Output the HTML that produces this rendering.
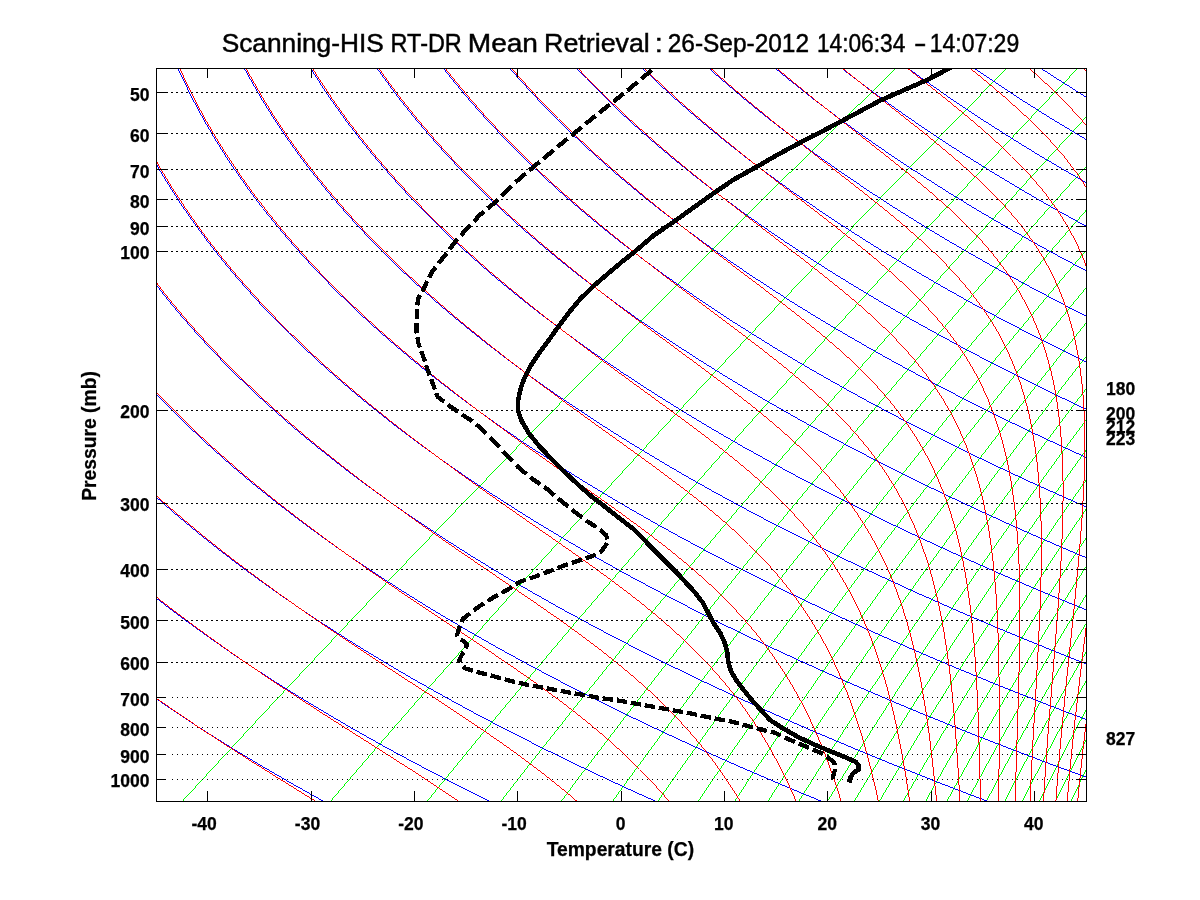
<!DOCTYPE html>
<html lang="en"><head><meta charset="utf-8"><title>Scanning-HIS RT-DR Mean Retrieval</title>
<style>html,body{margin:0;padding:0;background:#fff}body{width:1200px;height:900px;overflow:hidden;position:relative}svg{position:absolute;left:0;top:0}text{font-family:"Liberation Sans",sans-serif;fill:#000}.tk{font-weight:bold;font-size:17.5px;stroke:#000;stroke-width:.25px}.lb{font-weight:bold;font-size:19.3px;stroke:#000;stroke-width:.25px}.tt{font-size:25px;stroke:#000;stroke-width:.45px}</style></head><body>
<svg width="1200" height="900" viewBox="0 0 1200 900">
<rect x="0" y="0" width="1200" height="900" fill="#fff"/>
<defs><clipPath id="cp"><rect x="156" y="68" width="931" height="734"/></clipPath></defs>
<g clip-path="url(#cp)" shape-rendering="crispEdges" stroke="none">
<path fill="#00ff00" d="M896.3,67.5 885.1,78.4 864.5,98.6 844.6,118.2 825.2,137.2 806.4,155.8 788.2,173.8 770.4,191.4 753.2,208.5 736.4,225.2 720,241.5 704.1,257.4 704.1,258.4 720,242.5 736.4,226.2 753.2,209.5 770.4,192.4 788.2,174.8 806.4,156.8 825.2,138.2 844.6,119.2 864.5,99.6 885.1,79.4 896.3,68.5ZM703.6,257.9 688.1,273.5 673,288.6 658.2,303.5 643.8,318 629.8,332.1 616.1,346 602.7,359.6 589.6,372.9 576.7,385.9 564.2,398.7 552,411.2 540,423.5 528.2,435.5 516.7,447.3 505.5,458.8 494.5,470.2 483.7,481.4 473.1,492.3 462.7,503 452.5,513.6 442.5,524 432.7,534.2 423.1,544.2 413.6,554.1 404.4,563.7 395.3,573.3 386.3,582.6 377.6,591.9 368.9,600.9 360.5,609.9 352.1,618.6 343.9,627.3 335.9,635.8 328,644.2 320.2,652.5 312.5,660.6 305,668.6 297.6,676.5 290.3,684.3 283.1,691.9 276.1,699.5 269.1,706.9 262.3,714.3 255.5,721.5 248.9,728.7 242.4,735.7 235.9,742.6 229.6,749.5 223.4,756.2 217.2,762.9 211.2,769.4 205.2,775.9 199.3,782.3 193.5,788.6 187.8,794.9 182.1,801 183.1,801 188.8,794.9 194.5,788.6 200.3,782.3 206.2,775.9 212.2,769.4 218.2,762.9 224.4,756.2 230.6,749.5 236.9,742.6 243.4,735.7 249.9,728.7 256.5,721.5 263.3,714.3 270.1,706.9 277.1,699.5 284.1,691.9 291.3,684.3 298.6,676.5 306,668.6 313.5,660.6 321.2,652.5 329,644.2 336.9,635.8 344.9,627.3 353.1,618.6 361.5,609.9 369.9,600.9 378.6,591.9 387.3,582.6 396.3,573.3 405.4,563.7 414.6,554.1 424.1,544.2 433.7,534.2 443.5,524 453.5,513.6 463.7,503 474.1,492.3 484.7,481.4 495.5,470.2 506.5,458.8 517.7,447.3 529.2,435.5 541,423.5 553,411.2 565.2,398.7 577.7,385.9 590.6,372.9 603.7,359.6 617.1,346 630.8,332.1 644.8,318 659.2,303.5 674,288.6 689.1,273.5 704.6,257.9Z"/>
<path fill="#00ff00" d="M1006.5,68 995.8,78.9 976,99.1 956.9,118.7 938.3,137.7 920.3,156.3 902.8,174.3 885.9,191.9 869.4,209 853.3,225.7 837.7,242 822.5,257.9 807.7,273.5 793.3,288.6 779.2,303.5 765.5,318 752.1,332.1 739.1,346 726.3,359.6 713.9,372.9 701.7,385.9 689.8,398.7 678.2,411.2 666.8,423.5 655.7,435.5 644.8,447.3 634.1,458.8 623.7,470.2 613.4,481.4 603.4,492.3 593.6,503 584,513.6 574.5,524 565.3,534.2 556.2,544.2 547.3,554.1 538.6,563.7 530,573.3 521.6,582.6 513.3,591.9 505.2,600.9 497.2,609.9 489.4,618.6 481.7,627.3 474.1,635.8 466.7,644.2 459.3,652.5 452.2,660.6 445.1,668.6 438.1,676.5 431.3,684.3 424.6,691.9 418,699.5 411.5,706.9 405.1,714.3 398.8,721.5 392.6,728.7 386.5,735.7 380.5,742.6 374.5,749.5 368.7,756.2 363,762.9 357.3,769.4 351.8,775.9 346.3,782.3 340.9,788.6 335.5,794.9 330.3,801 331.3,801 336.5,794.9 341.9,788.6 347.3,782.3 352.8,775.9 358.3,769.4 364,762.9 369.7,756.2 375.5,749.5 381.5,742.6 387.5,735.7 393.6,728.7 399.8,721.5 406.1,714.3 412.5,706.9 419,699.5 425.6,691.9 432.3,684.3 439.1,676.5 446.1,668.6 453.2,660.6 460.3,652.5 467.7,644.2 475.1,635.8 482.7,627.3 490.4,618.6 498.2,609.9 506.2,600.9 514.3,591.9 522.6,582.6 531,573.3 539.6,563.7 548.3,554.1 557.2,544.2 566.3,534.2 575.5,524 585,513.6 594.6,503 604.4,492.3 614.4,481.4 624.7,470.2 635.1,458.8 645.8,447.3 656.7,435.5 667.8,423.5 679.2,411.2 690.8,398.7 702.7,385.9 714.9,372.9 727.3,359.6 740.1,346 753.1,332.1 766.5,318 780.2,303.5 794.3,288.6 808.7,273.5 823.5,257.9 838.7,242 854.3,225.7 870.4,209 886.9,191.9 903.8,174.3 921.3,156.3 939.3,137.7 957.9,118.7 977,99.1 996.8,78.9 1007.5,68Z"/>
<path fill="#00ff00" d="M1077.6,68 1067.2,78.9 1048,99.1 1029.4,118.7 1011.4,137.7 994,156.3 977,174.3 960.6,191.9 944.6,209 929,225.7 913.9,242 899.2,257.9 884.9,273.5 870.9,288.6 857.3,303.5 844.1,318 831.2,332.1 818.6,346 806.3,359.6 794.2,372.9 782.5,385.9 771,398.7 759.8,411.2 748.9,423.5 738.1,435.5 727.7,447.3 717.4,458.8 707.4,470.2 697.5,481.4 687.9,492.3 678.4,503 669.2,513.6 660.1,524 651.3,534.2 642.5,544.2 634,554.1 625.6,563.7 617.4,573.3 609.3,582.6 601.4,591.9 593.6,600.9 586,609.9 578.5,618.6 571.1,627.3 563.9,635.8 556.8,644.2 549.8,652.5 543,660.6 536.2,668.6 529.6,676.5 523.1,684.3 516.7,691.9 510.4,699.5 504.2,706.9 498.1,714.3 492,721.5 486.1,728.7 480.3,735.7 474.6,742.6 469,749.5 463.4,756.2 458,762.9 452.6,769.4 447.3,775.9 442.1,782.3 437,788.6 431.9,794.9 427,801 428,801 432.9,794.9 438,788.6 443.1,782.3 448.3,775.9 453.6,769.4 459,762.9 464.4,756.2 470,749.5 475.6,742.6 481.3,735.7 487.1,728.7 493,721.5 499.1,714.3 505.2,706.9 511.4,699.5 517.7,691.9 524.1,684.3 530.6,676.5 537.2,668.6 544,660.6 550.8,652.5 557.8,644.2 564.9,635.8 572.1,627.3 579.5,618.6 587,609.9 594.6,600.9 602.4,591.9 610.3,582.6 618.4,573.3 626.6,563.7 635,554.1 643.5,544.2 652.3,534.2 661.1,524 670.2,513.6 679.4,503 688.9,492.3 698.5,481.4 708.4,470.2 718.4,458.8 728.7,447.3 739.1,435.5 749.9,423.5 760.8,411.2 772,398.7 783.5,385.9 795.2,372.9 807.3,359.6 819.6,346 832.2,332.1 845.1,318 858.3,303.5 871.9,288.6 885.9,273.5 900.2,257.9 914.9,242 930,225.7 945.6,209 961.6,191.9 978,174.3 995,156.3 1012.4,137.7 1030.4,118.7 1049,99.1 1068.2,78.9 1078.6,68Z"/>
<path fill="#00ff00" d="M1131.3,68 1121.1,78.9 1102.4,99.1 1084.2,118.7 1066.6,137.7 1049.6,156.3 1033,174.3 1017,191.9 1001.4,209 986.2,225.7 971.5,242 957.2,257.9 943.2,273.5 929.7,288.6 916.4,303.5 903.6,318 891,332.1 878.7,346 866.8,359.6 855.1,372.9 843.7,385.9 832.6,398.7 821.7,411.2 811.1,423.5 800.7,435.5 790.5,447.3 780.5,458.8 770.8,470.2 761.3,481.4 752,492.3 742.8,503 733.9,513.6 725.1,524 716.5,534.2 708.1,544.2 699.8,554.1 691.7,563.7 683.8,573.3 676,582.6 668.4,591.9 660.9,600.9 653.5,609.9 646.3,618.6 639.2,627.3 632.2,635.8 625.4,644.2 618.6,652.5 612,660.6 605.5,668.6 599.2,676.5 592.9,684.3 586.7,691.9 580.6,699.5 574.7,706.9 568.8,714.3 563.1,721.5 557.4,728.7 551.8,735.7 546.3,742.6 540.9,749.5 535.6,756.2 530.4,762.9 525.2,769.4 520.1,775.9 515.2,782.3 510.2,788.6 505.4,794.9 500.6,801 501.6,801 506.4,794.9 511.2,788.6 516.2,782.3 521.1,775.9 526.2,769.4 531.4,762.9 536.6,756.2 541.9,749.5 547.3,742.6 552.8,735.7 558.4,728.7 564.1,721.5 569.8,714.3 575.7,706.9 581.6,699.5 587.7,691.9 593.9,684.3 600.2,676.5 606.5,668.6 613,660.6 619.6,652.5 626.4,644.2 633.2,635.8 640.2,627.3 647.3,618.6 654.5,609.9 661.9,600.9 669.4,591.9 677,582.6 684.8,573.3 692.7,563.7 700.8,554.1 709.1,544.2 717.5,534.2 726.1,524 734.9,513.6 743.8,503 753,492.3 762.3,481.4 771.8,470.2 781.5,458.8 791.5,447.3 801.7,435.5 812.1,423.5 822.7,411.2 833.6,398.7 844.7,385.9 856.1,372.9 867.8,359.6 879.7,346 892,332.1 904.6,318 917.4,303.5 930.7,288.6 944.2,273.5 958.2,257.9 972.5,242 987.2,225.7 1002.4,209 1018,191.9 1034,174.3 1050.6,156.3 1067.6,137.7 1085.2,118.7 1103.4,99.1 1122.1,78.9 1132.3,68Z"/>
<path fill="#00ff00" d="M1174.8,68 1164.9,78.9 1146.5,99.1 1128.7,118.7 1111.5,137.7 1094.8,156.3 1078.6,174.3 1062.8,191.9 1047.6,209 1032.8,225.7 1018.4,242 1004.4,257.9 990.7,273.5 977.5,288.6 964.5,303.5 952,318 939.7,332.1 927.7,346 916.1,359.6 904.7,372.9 893.6,385.9 882.7,398.7 872.1,411.2 861.7,423.5 851.6,435.5 841.7,447.3 832,458.8 822.6,470.2 813.3,481.4 804.2,492.3 795.3,503 786.6,513.6 778.1,524 769.8,534.2 761.6,544.2 753.6,554.1 745.7,563.7 738,573.3 730.5,582.6 723,591.9 715.8,600.9 708.6,609.9 701.6,618.6 694.7,627.3 688,635.8 681.4,644.2 674.9,652.5 668.5,660.6 662.2,668.6 656,676.5 649.9,684.3 644,691.9 638.1,699.5 632.4,706.9 626.7,714.3 621.1,721.5 615.7,728.7 610.3,735.7 605,742.6 599.8,749.5 594.6,756.2 589.6,762.9 584.6,769.4 579.7,775.9 574.9,782.3 570.2,788.6 565.5,794.9 561,801 562,801 566.5,794.9 571.2,788.6 575.9,782.3 580.7,775.9 585.6,769.4 590.6,762.9 595.6,756.2 600.8,749.5 606,742.6 611.3,735.7 616.7,728.7 622.1,721.5 627.7,714.3 633.4,706.9 639.1,699.5 645,691.9 650.9,684.3 657,676.5 663.2,668.6 669.5,660.6 675.9,652.5 682.4,644.2 689,635.8 695.7,627.3 702.6,618.6 709.6,609.9 716.8,600.9 724,591.9 731.5,582.6 739,573.3 746.7,563.7 754.6,554.1 762.6,544.2 770.8,534.2 779.1,524 787.6,513.6 796.3,503 805.2,492.3 814.3,481.4 823.6,470.2 833,458.8 842.7,447.3 852.6,435.5 862.7,423.5 873.1,411.2 883.7,398.7 894.6,385.9 905.7,372.9 917.1,359.6 928.7,346 940.7,332.1 953,318 965.5,303.5 978.5,288.6 991.7,273.5 1005.4,257.9 1019.4,242 1033.8,225.7 1048.6,209 1063.8,191.9 1079.6,174.3 1095.8,156.3 1112.5,137.7 1129.7,118.7 1147.5,99.1 1165.9,78.9 1175.8,68Z"/>
<path fill="#00ff00" d="M1211.8,68 1202,78.9 1183.9,99.1 1166.4,118.7 1149.5,137.7 1133.1,156.3 1117.2,174.3 1101.8,191.9 1086.8,209 1072.3,225.7 1058.1,242 1044.4,257.9 1031,273.5 1018,288.6 1005.4,303.5 993.1,318 981,332.1 969.3,346 957.9,359.6 946.8,372.9 935.9,385.9 925.3,398.7 914.9,411.2 904.8,423.5 894.9,435.5 885.3,447.3 875.8,458.8 866.6,470.2 857.5,481.4 848.7,492.3 840,503 831.5,513.6 823.2,524 815.1,534.2 807.1,544.2 799.3,554.1 791.7,563.7 784.2,573.3 776.8,582.6 769.6,591.9 762.5,600.9 755.6,609.9 748.8,618.6 742.1,627.3 735.5,635.8 729.1,644.2 722.8,652.5 716.5,660.6 710.4,668.6 704.5,676.5 698.6,684.3 692.8,691.9 687.1,699.5 681.5,706.9 676,714.3 670.6,721.5 665.3,728.7 660.1,735.7 655,742.6 649.9,749.5 645,756.2 640.1,762.9 635.3,769.4 630.6,775.9 625.9,782.3 621.3,788.6 616.8,794.9 612.4,801 613.4,801 617.8,794.9 622.3,788.6 626.9,782.3 631.6,775.9 636.3,769.4 641.1,762.9 646,756.2 650.9,749.5 656,742.6 661.1,735.7 666.3,728.7 671.6,721.5 677,714.3 682.5,706.9 688.1,699.5 693.8,691.9 699.6,684.3 705.5,676.5 711.4,668.6 717.5,660.6 723.8,652.5 730.1,644.2 736.5,635.8 743.1,627.3 749.8,618.6 756.6,609.9 763.5,600.9 770.6,591.9 777.8,582.6 785.2,573.3 792.7,563.7 800.3,554.1 808.1,544.2 816.1,534.2 824.2,524 832.5,513.6 841,503 849.7,492.3 858.5,481.4 867.6,470.2 876.8,458.8 886.3,447.3 895.9,435.5 905.8,423.5 915.9,411.2 926.3,398.7 936.9,385.9 947.8,372.9 958.9,359.6 970.3,346 982,332.1 994.1,318 1006.4,303.5 1019,288.6 1032,273.5 1045.4,257.9 1059.1,242 1073.3,225.7 1087.8,209 1102.8,191.9 1118.2,174.3 1134.1,156.3 1150.5,137.7 1167.4,118.7 1184.9,99.1 1203,78.9 1212.8,68Z"/>
<path fill="#00ff00" d="M1243.9,68 1234.3,78.9 1216.5,99.1 1199.3,118.7 1182.6,137.7 1166.5,156.3 1150.9,174.3 1135.7,191.9 1121,209 1106.7,225.7 1092.8,242 1079.3,257.9 1066.2,273.5 1053.4,288.6 1041,303.5 1028.9,318 1017.1,332.1 1005.7,346 994.5,359.6 983.6,372.9 972.9,385.9 962.5,398.7 952.4,411.2 942.4,423.5 932.8,435.5 923.3,447.3 914.1,458.8 905,470.2 896.2,481.4 887.5,492.3 879,503 870.8,513.6 862.6,524 854.7,534.2 846.9,544.2 839.3,554.1 831.8,563.7 824.5,573.3 817.3,582.6 810.3,591.9 803.4,600.9 796.6,609.9 790,618.6 783.5,627.3 777.1,635.8 770.8,644.2 764.7,652.5 758.6,660.6 752.7,668.6 746.9,676.5 741.1,684.3 735.5,691.9 730,699.5 724.6,706.9 719.2,714.3 714,721.5 708.8,728.7 703.8,735.7 698.8,742.6 693.9,749.5 689.1,756.2 684.4,762.9 679.7,769.4 675.1,775.9 670.6,782.3 666.2,788.6 661.8,794.9 657.5,801 658.5,801 662.8,794.9 667.2,788.6 671.6,782.3 676.1,775.9 680.7,769.4 685.4,762.9 690.1,756.2 694.9,749.5 699.8,742.6 704.8,735.7 709.8,728.7 715,721.5 720.2,714.3 725.6,706.9 731,699.5 736.5,691.9 742.1,684.3 747.9,676.5 753.7,668.6 759.6,660.6 765.7,652.5 771.8,644.2 778.1,635.8 784.5,627.3 791,618.6 797.6,609.9 804.4,600.9 811.3,591.9 818.3,582.6 825.5,573.3 832.8,563.7 840.3,554.1 847.9,544.2 855.7,534.2 863.6,524 871.8,513.6 880,503 888.5,492.3 897.2,481.4 906,470.2 915.1,458.8 924.3,447.3 933.8,435.5 943.4,423.5 953.4,411.2 963.5,398.7 973.9,385.9 984.6,372.9 995.5,359.6 1006.7,346 1018.1,332.1 1029.9,318 1042,303.5 1054.4,288.6 1067.2,273.5 1080.3,257.9 1093.8,242 1107.7,225.7 1122,209 1136.7,191.9 1151.9,174.3 1167.5,156.3 1183.6,137.7 1200.3,118.7 1217.5,99.1 1235.3,78.9 1244.9,68Z"/>
<path fill="#00ff00" d="M1272.5,68 1263,78.9 1245.5,99.1 1228.5,118.7 1212.1,137.7 1196.2,156.3 1180.8,174.3 1165.9,191.9 1151.4,209 1137.3,225.7 1123.7,242 1110.4,257.9 1097.5,273.5 1084.9,288.6 1072.7,303.5 1060.9,318 1049.3,332.1 1038,346 1027,359.6 1016.3,372.9 1005.8,385.9 995.6,398.7 985.7,411.2 976,423.5 966.5,435.5 957.2,447.3 948.1,458.8 939.3,470.2 930.6,481.4 922.1,492.3 913.8,503 905.7,513.6 897.8,524 890,534.2 882.4,544.2 874.9,554.1 867.6,563.7 860.5,573.3 853.5,582.6 846.6,591.9 839.9,600.9 833.3,609.9 826.8,618.6 820.4,627.3 814.2,635.8 808.1,644.2 802.1,652.5 796.2,660.6 790.4,668.6 784.7,676.5 779.1,684.3 773.7,691.9 768.3,699.5 763,706.9 757.8,714.3 752.7,721.5 747.7,728.7 742.8,735.7 737.9,742.6 733.1,749.5 728.5,756.2 723.9,762.9 719.3,769.4 714.9,775.9 710.5,782.3 706.2,788.6 702,794.9 697.8,801 698.8,801 703,794.9 707.2,788.6 711.5,782.3 715.9,775.9 720.3,769.4 724.9,762.9 729.5,756.2 734.1,749.5 738.9,742.6 743.8,735.7 748.7,728.7 753.7,721.5 758.8,714.3 764,706.9 769.3,699.5 774.7,691.9 780.1,684.3 785.7,676.5 791.4,668.6 797.2,660.6 803.1,652.5 809.1,644.2 815.2,635.8 821.4,627.3 827.8,618.6 834.3,609.9 840.9,600.9 847.6,591.9 854.5,582.6 861.5,573.3 868.6,563.7 875.9,554.1 883.4,544.2 891,534.2 898.8,524 906.7,513.6 914.8,503 923.1,492.3 931.6,481.4 940.3,470.2 949.1,458.8 958.2,447.3 967.5,435.5 977,423.5 986.7,411.2 996.6,398.7 1006.8,385.9 1017.3,372.9 1028,359.6 1039,346 1050.3,332.1 1061.9,318 1073.7,303.5 1085.9,288.6 1098.5,273.5 1111.4,257.9 1124.7,242 1138.3,225.7 1152.4,209 1166.9,191.9 1181.8,174.3 1197.2,156.3 1213.1,137.7 1229.5,118.7 1246.5,99.1 1264,78.9 1273.5,68Z"/>
<path fill="#00ff00" d="M1271.6,99.1 1254.9,118.7 1238.7,137.7 1223,156.3 1207.8,174.3 1193.1,191.9 1178.8,209 1165,225.7 1151.5,242 1138.4,257.9 1125.7,273.5 1113.4,288.6 1101.4,303.5 1089.7,318 1078.3,332.1 1067.2,346 1056.4,359.6 1045.9,372.9 1035.6,385.9 1025.6,398.7 1015.8,411.2 1006.2,423.5 996.9,435.5 987.8,447.3 978.9,458.8 970.2,470.2 961.7,481.4 953.4,492.3 945.3,503 937.3,513.6 929.5,524 921.9,534.2 914.5,544.2 907.2,554.1 900,563.7 893,573.3 886.2,582.6 879.4,591.9 872.8,600.9 866.4,609.9 860,618.6 853.8,627.3 847.7,635.8 841.8,644.2 835.9,652.5 830.1,660.6 824.5,668.6 818.9,676.5 813.5,684.3 808.2,691.9 802.9,699.5 797.8,706.9 792.7,714.3 787.7,721.5 782.8,728.7 778,735.7 773.3,742.6 768.7,749.5 764.1,756.2 759.6,762.9 755.2,769.4 750.9,775.9 746.6,782.3 742.5,788.6 738.3,794.9 734.3,801 735.3,801 739.3,794.9 743.5,788.6 747.6,782.3 751.9,775.9 756.2,769.4 760.6,762.9 765.1,756.2 769.7,749.5 774.3,742.6 779,735.7 783.8,728.7 788.7,721.5 793.7,714.3 798.8,706.9 803.9,699.5 809.2,691.9 814.5,684.3 819.9,676.5 825.5,668.6 831.1,660.6 836.9,652.5 842.8,644.2 848.7,635.8 854.8,627.3 861,618.6 867.4,609.9 873.8,600.9 880.4,591.9 887.2,582.6 894,573.3 901,563.7 908.2,554.1 915.5,544.2 922.9,534.2 930.5,524 938.3,513.6 946.3,503 954.4,492.3 962.7,481.4 971.2,470.2 979.9,458.8 988.8,447.3 997.9,435.5 1007.2,423.5 1016.8,411.2 1026.6,398.7 1036.6,385.9 1046.9,372.9 1057.4,359.6 1068.2,346 1079.3,332.1 1090.7,318 1102.4,303.5 1114.4,288.6 1126.7,273.5 1139.4,257.9 1152.5,242 1166,225.7 1179.8,209 1194.1,191.9 1208.8,174.3 1224,156.3 1239.7,137.7 1255.9,118.7 1272.6,99.1Z"/>
<path fill="#00ff00" d="M1278.9,118.7 1262.9,137.7 1247.4,156.3 1232.4,174.3 1217.9,191.9 1203.8,209 1190.2,225.7 1176.9,242 1164,257.9 1151.5,273.5 1139.3,288.6 1127.5,303.5 1116,318 1104.8,332.1 1093.9,346 1083.2,359.6 1072.8,372.9 1062.7,385.9 1052.9,398.7 1043.3,411.2 1033.9,423.5 1024.7,435.5 1015.8,447.3 1007,458.8 998.5,470.2 990.1,481.4 982,492.3 974,503 966.2,513.6 958.6,524 951.1,534.2 943.8,544.2 936.6,554.1 929.6,563.7 922.8,573.3 916,582.6 909.4,591.9 903,600.9 896.7,609.9 890.5,618.6 884.4,627.3 878.4,635.8 872.6,644.2 866.8,652.5 861.2,660.6 855.7,668.6 850.3,676.5 844.9,684.3 839.7,691.9 834.6,699.5 829.6,706.9 824.6,714.3 819.8,721.5 815,728.7 810.3,735.7 805.7,742.6 801.2,749.5 796.7,756.2 792.4,762.9 788.1,769.4 783.9,775.9 779.7,782.3 775.6,788.6 771.6,794.9 767.7,801 768.7,801 772.6,794.9 776.6,788.6 780.7,782.3 784.9,775.9 789.1,769.4 793.4,762.9 797.7,756.2 802.2,749.5 806.7,742.6 811.3,735.7 816,728.7 820.8,721.5 825.6,714.3 830.6,706.9 835.6,699.5 840.7,691.9 845.9,684.3 851.3,676.5 856.7,668.6 862.2,660.6 867.8,652.5 873.6,644.2 879.4,635.8 885.4,627.3 891.5,618.6 897.7,609.9 904,600.9 910.4,591.9 917,582.6 923.8,573.3 930.6,563.7 937.6,554.1 944.8,544.2 952.1,534.2 959.6,524 967.2,513.6 975,503 983,492.3 991.1,481.4 999.5,470.2 1008,458.8 1016.8,447.3 1025.7,435.5 1034.9,423.5 1044.3,411.2 1053.9,398.7 1063.7,385.9 1073.8,372.9 1084.2,359.6 1094.9,346 1105.8,332.1 1117,318 1128.5,303.5 1140.3,288.6 1152.5,273.5 1165,257.9 1177.9,242 1191.2,225.7 1204.8,209 1218.9,191.9 1233.4,174.3 1248.4,156.3 1263.9,137.7 1279.9,118.7Z"/>
<path fill="#00ff00" d="M1285.2,137.7 1269.9,156.3 1255.1,174.3 1240.8,191.9 1226.8,209 1213.4,225.7 1200.3,242 1187.6,257.9 1175.2,273.5 1163.2,288.6 1151.6,303.5 1140.2,318 1129.2,332.1 1118.4,346 1107.9,359.6 1097.7,372.9 1087.8,385.9 1078.1,398.7 1068.6,411.2 1059.4,423.5 1050.3,435.5 1041.5,447.3 1032.9,458.8 1024.5,470.2 1016.3,481.4 1008.3,492.3 1000.5,503 992.8,513.6 985.3,524 978,534.2 970.8,544.2 963.8,554.1 956.9,563.7 950.2,573.3 943.6,582.6 937.1,591.9 930.8,600.9 924.6,609.9 918.5,618.6 912.6,627.3 906.7,635.8 901,644.2 895.4,652.5 889.9,660.6 884.5,668.6 879.2,676.5 874,684.3 868.8,691.9 863.8,699.5 858.9,706.9 854.1,714.3 849.3,721.5 844.7,728.7 840.1,735.7 835.6,742.6 831.2,749.5 826.9,756.2 822.6,762.9 818.4,769.4 814.3,775.9 810.3,782.3 806.3,788.6 802.4,794.9 798.5,801 799.5,801 803.4,794.9 807.3,788.6 811.3,782.3 815.3,775.9 819.4,769.4 823.6,762.9 827.9,756.2 832.2,749.5 836.6,742.6 841.1,735.7 845.7,728.7 850.3,721.5 855.1,714.3 859.9,706.9 864.8,699.5 869.8,691.9 875,684.3 880.2,676.5 885.5,668.6 890.9,660.6 896.4,652.5 902,644.2 907.7,635.8 913.6,627.3 919.5,618.6 925.6,609.9 931.8,600.9 938.1,591.9 944.6,582.6 951.2,573.3 957.9,563.7 964.8,554.1 971.8,544.2 979,534.2 986.3,524 993.8,513.6 1001.5,503 1009.3,492.3 1017.3,481.4 1025.5,470.2 1033.9,458.8 1042.5,447.3 1051.3,435.5 1060.4,423.5 1069.6,411.2 1079.1,398.7 1088.8,385.9 1098.7,372.9 1108.9,359.6 1119.4,346 1130.2,332.1 1141.2,318 1152.6,303.5 1164.2,288.6 1176.2,273.5 1188.6,257.9 1201.3,242 1214.4,225.7 1227.8,209 1241.8,191.9 1256.1,174.3 1270.9,156.3 1286.2,137.7Z"/>
<path fill="#00ff00" d="M1276.1,174.3 1261.9,191.9 1248.2,209 1234.9,225.7 1221.9,242 1209.4,257.9 1197.2,273.5 1185.4,288.6 1173.9,303.5 1162.7,318 1151.8,332.1 1141.2,346 1130.8,359.6 1120.8,372.9 1111,385.9 1101.4,398.7 1092.1,411.2 1083,423.5 1074.1,435.5 1065.4,447.3 1057,458.8 1048.7,470.2 1040.7,481.4 1032.8,492.3 1025.1,503 1017.5,513.6 1010.2,524 1002.9,534.2 995.9,544.2 989,554.1 982.2,563.7 975.6,573.3 969.2,582.6 962.8,591.9 956.6,600.9 950.5,609.9 944.6,618.6 938.7,627.3 933,635.8 927.4,644.2 921.9,652.5 916.5,660.6 911.2,668.6 906,676.5 900.9,684.3 895.9,691.9 891,699.5 886.2,706.9 881.5,714.3 876.8,721.5 872.3,728.7 867.8,735.7 863.4,742.6 859.1,749.5 854.8,756.2 850.7,762.9 846.6,769.4 842.6,775.9 838.6,782.3 834.7,788.6 830.9,794.9 827.2,801 828.2,801 831.9,794.9 835.7,788.6 839.6,782.3 843.6,775.9 847.6,769.4 851.7,762.9 855.8,756.2 860.1,749.5 864.4,742.6 868.8,735.7 873.3,728.7 877.8,721.5 882.5,714.3 887.2,706.9 892,699.5 896.9,691.9 901.9,684.3 907,676.5 912.2,668.6 917.5,660.6 922.9,652.5 928.4,644.2 934,635.8 939.7,627.3 945.6,618.6 951.5,609.9 957.6,600.9 963.8,591.9 970.2,582.6 976.6,573.3 983.2,563.7 990,554.1 996.9,544.2 1003.9,534.2 1011.2,524 1018.5,513.6 1026.1,503 1033.8,492.3 1041.7,481.4 1049.7,470.2 1058,458.8 1066.4,447.3 1075.1,435.5 1084,423.5 1093.1,411.2 1102.4,398.7 1112,385.9 1121.8,372.9 1131.8,359.6 1142.2,346 1152.8,332.1 1163.7,318 1174.9,303.5 1186.4,288.6 1198.2,273.5 1210.4,257.9 1222.9,242 1235.9,225.7 1249.2,209 1262.9,191.9 1277.1,174.3Z"/>
<path fill="#00ff00" d="M1281.6,191.9 1268.1,209 1254.9,225.7 1242.1,242 1229.7,257.9 1217.7,273.5 1206,288.6 1194.6,303.5 1183.6,318 1172.8,332.1 1162.4,346 1152.2,359.6 1142.3,372.9 1132.6,385.9 1123.2,398.7 1114,411.2 1105,423.5 1096.3,435.5 1087.7,447.3 1079.4,458.8 1071.3,470.2 1063.3,481.4 1055.6,492.3 1048,503 1040.6,513.6 1033.3,524 1026.2,534.2 1019.3,544.2 1012.5,554.1 1005.9,563.7 999.4,573.3 993,582.6 986.8,591.9 980.7,600.9 974.7,609.9 968.9,618.6 963.2,627.3 957.5,635.8 952,644.2 946.6,652.5 941.3,660.6 936.1,668.6 931.1,676.5 926.1,684.3 921.2,691.9 916.4,699.5 911.7,706.9 907,714.3 902.5,721.5 898,728.7 893.7,735.7 889.4,742.6 885.1,749.5 881,756.2 876.9,762.9 872.9,769.4 869,775.9 865.1,782.3 861.4,788.6 857.6,794.9 854,801 855,801 858.6,794.9 862.4,788.6 866.1,782.3 870,775.9 873.9,769.4 877.9,762.9 882,756.2 886.1,749.5 890.4,742.6 894.7,735.7 899,728.7 903.5,721.5 908,714.3 912.7,706.9 917.4,699.5 922.2,691.9 927.1,684.3 932.1,676.5 937.1,668.6 942.3,660.6 947.6,652.5 953,644.2 958.5,635.8 964.2,627.3 969.9,618.6 975.7,609.9 981.7,600.9 987.8,591.9 994,582.6 1000.4,573.3 1006.9,563.7 1013.5,554.1 1020.3,544.2 1027.2,534.2 1034.3,524 1041.6,513.6 1049,503 1056.6,492.3 1064.3,481.4 1072.3,470.2 1080.4,458.8 1088.7,447.3 1097.3,435.5 1106,423.5 1115,411.2 1124.2,398.7 1133.6,385.9 1143.3,372.9 1153.2,359.6 1163.4,346 1173.8,332.1 1184.6,318 1195.6,303.5 1207,288.6 1218.7,273.5 1230.7,257.9 1243.1,242 1255.9,225.7 1269.1,209 1282.6,191.9Z"/>
<path fill="#00ff00" d="M1273.7,225.7 1261.1,242 1248.8,257.9 1236.9,273.5 1225.4,288.6 1214.1,303.5 1203.2,318 1192.6,332.1 1182.3,346 1172.2,359.6 1162.4,372.9 1152.9,385.9 1143.6,398.7 1134.5,411.2 1125.7,423.5 1117.1,435.5 1108.7,447.3 1100.4,458.8 1092.4,470.2 1084.6,481.4 1077,492.3 1069.5,503 1062.2,513.6 1055.1,524 1048.1,534.2 1041.3,544.2 1034.6,554.1 1028.1,563.7 1021.7,573.3 1015.4,582.6 1009.3,591.9 1003.3,600.9 997.5,609.9 991.7,618.6 986.1,627.3 980.6,635.8 975.2,644.2 969.9,652.5 964.7,660.6 959.6,668.6 954.6,676.5 949.7,684.3 944.9,691.9 940.2,699.5 935.6,706.9 931,714.3 926.6,721.5 922.2,728.7 917.9,735.7 913.7,742.6 909.6,749.5 905.5,756.2 901.6,762.9 897.7,769.4 893.8,775.9 890,782.3 886.3,788.6 882.7,794.9 879.1,801 880.1,801 883.7,794.9 887.3,788.6 891,782.3 894.8,775.9 898.7,769.4 902.6,762.9 906.5,756.2 910.6,749.5 914.7,742.6 918.9,735.7 923.2,728.7 927.6,721.5 932,714.3 936.6,706.9 941.2,699.5 945.9,691.9 950.7,684.3 955.6,676.5 960.6,668.6 965.7,660.6 970.9,652.5 976.2,644.2 981.6,635.8 987.1,627.3 992.7,618.6 998.5,609.9 1004.3,600.9 1010.3,591.9 1016.4,582.6 1022.7,573.3 1029.1,563.7 1035.6,554.1 1042.3,544.2 1049.1,534.2 1056.1,524 1063.2,513.6 1070.5,503 1078,492.3 1085.6,481.4 1093.4,470.2 1101.4,458.8 1109.7,447.3 1118.1,435.5 1126.7,423.5 1135.5,411.2 1144.6,398.7 1153.9,385.9 1163.4,372.9 1173.2,359.6 1183.3,346 1193.6,332.1 1204.2,318 1215.1,303.5 1226.4,288.6 1237.9,273.5 1249.8,257.9 1262.1,242 1274.7,225.7Z"/>
<path fill="#00ff00" d="M1278.9,242 1266.7,257.9 1255,273.5 1243.6,288.6 1232.5,303.5 1221.7,318 1211.2,332.1 1201,346 1191.1,359.6 1181.4,372.9 1172,385.9 1162.8,398.7 1153.8,411.2 1145.1,423.5 1136.6,435.5 1128.3,447.3 1120.2,458.8 1112.3,470.2 1104.6,481.4 1097.1,492.3 1089.7,503 1082.5,513.6 1075.5,524 1068.7,534.2 1061.9,544.2 1055.4,554.1 1049,563.7 1042.7,573.3 1036.5,582.6 1030.5,591.9 1024.6,600.9 1018.8,609.9 1013.2,618.6 1007.7,627.3 1002.2,635.8 996.9,644.2 991.7,652.5 986.6,660.6 981.6,668.6 976.7,676.5 971.9,684.3 967.2,691.9 962.6,699.5 958.1,706.9 953.6,714.3 949.3,721.5 945,728.7 940.8,735.7 936.7,742.6 932.7,749.5 928.7,756.2 924.8,762.9 921,769.4 917.2,775.9 913.5,782.3 909.9,788.6 906.3,794.9 902.8,801 903.8,801 907.3,794.9 910.9,788.6 914.5,782.3 918.2,775.9 922,769.4 925.8,762.9 929.7,756.2 933.7,749.5 937.7,742.6 941.8,735.7 946,728.7 950.3,721.5 954.6,714.3 959.1,706.9 963.6,699.5 968.2,691.9 972.9,684.3 977.7,676.5 982.6,668.6 987.6,660.6 992.7,652.5 997.9,644.2 1003.2,635.8 1008.7,627.3 1014.2,618.6 1019.8,609.9 1025.6,600.9 1031.5,591.9 1037.5,582.6 1043.7,573.3 1050,563.7 1056.4,554.1 1062.9,544.2 1069.7,534.2 1076.5,524 1083.5,513.6 1090.7,503 1098.1,492.3 1105.6,481.4 1113.3,470.2 1121.2,458.8 1129.3,447.3 1137.6,435.5 1146.1,423.5 1154.8,411.2 1163.8,398.7 1173,385.9 1182.4,372.9 1192.1,359.6 1202,346 1212.2,332.1 1222.7,318 1233.5,303.5 1244.6,288.6 1256,273.5 1267.7,257.9 1279.9,242Z"/>
<path fill="#00ff00" d="M1283.7,257.9 1272,273.5 1260.7,288.6 1249.8,303.5 1239.1,318 1228.7,332.1 1218.7,346 1208.8,359.6 1199.3,372.9 1190,385.9 1180.9,398.7 1172.1,411.2 1163.5,423.5 1155.1,435.5 1146.9,447.3 1138.9,458.8 1131.1,470.2 1123.5,481.4 1116.1,492.3 1108.9,503 1101.8,513.6 1094.9,524 1088.1,534.2 1081.5,544.2 1075,554.1 1068.7,563.7 1062.5,573.3 1056.5,582.6 1050.5,591.9 1044.7,600.9 1039.1,609.9 1033.5,618.6 1028.1,627.3 1022.8,635.8 1017.5,644.2 1012.4,652.5 1007.4,660.6 1002.5,668.6 997.7,676.5 993,684.3 988.4,691.9 983.8,699.5 979.4,706.9 975,714.3 970.8,721.5 966.6,728.7 962.4,735.7 958.4,742.6 954.5,749.5 950.6,756.2 946.7,762.9 943,769.4 939.3,775.9 935.7,782.3 932.2,788.6 928.7,794.9 925.3,801 926.3,801 929.7,794.9 933.2,788.6 936.7,782.3 940.3,775.9 944,769.4 947.7,762.9 951.6,756.2 955.5,749.5 959.4,742.6 963.4,735.7 967.6,728.7 971.8,721.5 976,714.3 980.4,706.9 984.8,699.5 989.4,691.9 994,684.3 998.7,676.5 1003.5,668.6 1008.4,660.6 1013.4,652.5 1018.5,644.2 1023.8,635.8 1029.1,627.3 1034.5,618.6 1040.1,609.9 1045.7,600.9 1051.5,591.9 1057.5,582.6 1063.5,573.3 1069.7,563.7 1076,554.1 1082.5,544.2 1089.1,534.2 1095.9,524 1102.8,513.6 1109.9,503 1117.1,492.3 1124.5,481.4 1132.1,470.2 1139.9,458.8 1147.9,447.3 1156.1,435.5 1164.5,423.5 1173.1,411.2 1181.9,398.7 1191,385.9 1200.3,372.9 1209.8,359.6 1219.7,346 1229.7,332.1 1240.1,318 1250.8,303.5 1261.7,288.6 1273,273.5 1284.7,257.9Z"/>
<path fill="#00ff00" d="M1277,288.6 1266.2,303.5 1255.6,318 1245.4,332.1 1235.4,346 1225.7,359.6 1216.2,372.9 1207.1,385.9 1198.1,398.7 1189.4,411.2 1180.9,423.5 1172.6,435.5 1164.5,447.3 1156.7,458.8 1149,470.2 1141.5,481.4 1134.1,492.3 1127,503 1120,513.6 1113.2,524 1106.5,534.2 1100,544.2 1093.6,554.1 1087.4,563.7 1081.3,573.3 1075.3,582.6 1069.5,591.9 1063.8,600.9 1058.2,609.9 1052.8,618.6 1047.4,627.3 1042.2,635.8 1037.1,644.2 1032,652.5 1027.1,660.6 1022.3,668.6 1017.6,676.5 1012.9,684.3 1008.4,691.9 1003.9,699.5 999.6,706.9 995.3,714.3 991.1,721.5 987,728.7 983,735.7 979,742.6 975.1,749.5 971.3,756.2 967.6,762.9 963.9,769.4 960.3,775.9 956.8,782.3 953.3,788.6 949.9,794.9 946.6,801 947.6,801 950.9,794.9 954.3,788.6 957.8,782.3 961.3,775.9 964.9,769.4 968.6,762.9 972.3,756.2 976.1,749.5 980,742.6 984,735.7 988,728.7 992.1,721.5 996.3,714.3 1000.6,706.9 1004.9,699.5 1009.4,691.9 1013.9,684.3 1018.6,676.5 1023.3,668.6 1028.1,660.6 1033,652.5 1038.1,644.2 1043.2,635.8 1048.4,627.3 1053.8,618.6 1059.2,609.9 1064.8,600.9 1070.5,591.9 1076.3,582.6 1082.3,573.3 1088.4,563.7 1094.6,554.1 1101,544.2 1107.5,534.2 1114.2,524 1121,513.6 1128,503 1135.1,492.3 1142.5,481.4 1150,470.2 1157.7,458.8 1165.5,447.3 1173.6,435.5 1181.9,423.5 1190.4,411.2 1199.1,398.7 1208.1,385.9 1217.2,372.9 1226.7,359.6 1236.4,346 1246.4,332.1 1256.6,318 1267.2,303.5 1278,288.6Z"/>
<path fill="#00ff00" d="M1281.7,303.5 1271.3,318 1261.1,332.1 1251.3,346 1241.7,359.6 1232.4,372.9 1223.3,385.9 1214.4,398.7 1205.8,411.2 1197.4,423.5 1189.2,435.5 1181.3,447.3 1173.5,458.8 1165.9,470.2 1158.5,481.4 1151.3,492.3 1144.2,503 1137.3,513.6 1130.6,524 1124,534.2 1117.6,544.2 1111.3,554.1 1105.2,563.7 1099.2,573.3 1093.3,582.6 1087.6,591.9 1081.9,600.9 1076.5,609.9 1071.1,618.6 1065.8,627.3 1060.7,635.8 1055.6,644.2 1050.7,652.5 1045.8,660.6 1041.1,668.6 1036.5,676.5 1031.9,684.3 1027.4,691.9 1023.1,699.5 1018.8,706.9 1014.6,714.3 1010.5,721.5 1006.4,728.7 1002.5,735.7 998.6,742.6 994.8,749.5 991.1,756.2 987.4,762.9 983.8,769.4 980.3,775.9 976.8,782.3 973.4,788.6 970.1,794.9 966.8,801 967.8,801 971.1,794.9 974.4,788.6 977.8,782.3 981.3,775.9 984.8,769.4 988.4,762.9 992.1,756.2 995.8,749.5 999.6,742.6 1003.5,735.7 1007.4,728.7 1011.5,721.5 1015.6,714.3 1019.8,706.9 1024.1,699.5 1028.4,691.9 1032.9,684.3 1037.5,676.5 1042.1,668.6 1046.8,660.6 1051.7,652.5 1056.6,644.2 1061.7,635.8 1066.8,627.3 1072.1,618.6 1077.5,609.9 1082.9,600.9 1088.6,591.9 1094.3,582.6 1100.2,573.3 1106.2,563.7 1112.3,554.1 1118.6,544.2 1125,534.2 1131.6,524 1138.3,513.6 1145.2,503 1152.3,492.3 1159.5,481.4 1166.9,470.2 1174.5,458.8 1182.3,447.3 1190.2,435.5 1198.4,423.5 1206.8,411.2 1215.4,398.7 1224.3,385.9 1233.4,372.9 1242.7,359.6 1252.3,346 1262.1,332.1 1272.3,318 1282.7,303.5Z"/>
<path fill="#00ff00" d="M1276.1,332.1 1266.4,346 1256.9,359.6 1247.7,372.9 1238.7,385.9 1230,398.7 1221.4,411.2 1213.1,423.5 1205.1,435.5 1197.2,447.3 1189.5,458.8 1182,470.2 1174.7,481.4 1167.6,492.3 1160.6,503 1153.8,513.6 1147.2,524 1140.7,534.2 1134.3,544.2 1128.1,554.1 1122.1,563.7 1116.2,573.3 1110.4,582.6 1104.7,591.9 1099.2,600.9 1093.8,609.9 1088.5,618.6 1083.3,627.3 1078.3,635.8 1073.3,644.2 1068.4,652.5 1063.7,660.6 1059,668.6 1054.4,676.5 1050,684.3 1045.6,691.9 1041.3,699.5 1037.1,706.9 1033,714.3 1028.9,721.5 1025,728.7 1021.1,735.7 1017.3,742.6 1013.5,749.5 1009.9,756.2 1006.3,762.9 1002.7,769.4 999.3,775.9 995.9,782.3 992.6,788.6 989.3,794.9 986.1,801 987.1,801 990.3,794.9 993.6,788.6 996.9,782.3 1000.3,775.9 1003.7,769.4 1007.3,762.9 1010.9,756.2 1014.5,749.5 1018.3,742.6 1022.1,735.7 1026,728.7 1029.9,721.5 1034,714.3 1038.1,706.9 1042.3,699.5 1046.6,691.9 1051,684.3 1055.4,676.5 1060,668.6 1064.7,660.6 1069.4,652.5 1074.3,644.2 1079.3,635.8 1084.3,627.3 1089.5,618.6 1094.8,609.9 1100.2,600.9 1105.7,591.9 1111.4,582.6 1117.2,573.3 1123.1,563.7 1129.1,554.1 1135.3,544.2 1141.7,534.2 1148.2,524 1154.8,513.6 1161.6,503 1168.6,492.3 1175.7,481.4 1183,470.2 1190.5,458.8 1198.2,447.3 1206.1,435.5 1214.1,423.5 1222.4,411.2 1231,398.7 1239.7,385.9 1248.7,372.9 1257.9,359.6 1267.4,346 1277.1,332.1Z"/>
<path fill="#00ff00" d="M1280.8,346 1271.4,359.6 1262.3,372.9 1253.4,385.9 1244.8,398.7 1236.3,411.2 1228.1,423.5 1220.1,435.5 1212.4,447.3 1204.8,458.8 1197.4,470.2 1190.1,481.4 1183.1,492.3 1176.2,503 1169.5,513.6 1163,524 1156.6,534.2 1150.3,544.2 1144.2,554.1 1138.2,563.7 1132.4,573.3 1126.7,582.6 1121.1,591.9 1115.7,600.9 1110.4,609.9 1105.1,618.6 1100,627.3 1095,635.8 1090.2,644.2 1085.4,652.5 1080.7,660.6 1076.1,668.6 1071.6,676.5 1067.2,684.3 1062.9,691.9 1058.7,699.5 1054.5,706.9 1050.5,714.3 1046.5,721.5 1042.6,728.7 1038.8,735.7 1035.1,742.6 1031.4,749.5 1027.8,756.2 1024.3,762.9 1020.8,769.4 1017.4,775.9 1014.1,782.3 1010.8,788.6 1007.6,794.9 1004.5,801 1005.5,801 1008.6,794.9 1011.8,788.6 1015.1,782.3 1018.4,775.9 1021.8,769.4 1025.3,762.9 1028.8,756.2 1032.4,749.5 1036.1,742.6 1039.8,735.7 1043.6,728.7 1047.5,721.5 1051.5,714.3 1055.5,706.9 1059.7,699.5 1063.9,691.9 1068.2,684.3 1072.6,676.5 1077.1,668.6 1081.7,660.6 1086.4,652.5 1091.2,644.2 1096,635.8 1101,627.3 1106.1,618.6 1111.4,609.9 1116.7,600.9 1122.1,591.9 1127.7,582.6 1133.4,573.3 1139.2,563.7 1145.2,554.1 1151.3,544.2 1157.6,534.2 1164,524 1170.5,513.6 1177.2,503 1184.1,492.3 1191.1,481.4 1198.4,470.2 1205.8,458.8 1213.4,447.3 1221.1,435.5 1229.1,423.5 1237.3,411.2 1245.8,398.7 1254.4,385.9 1263.3,372.9 1272.4,359.6 1281.8,346Z"/>
<path fill="#00ff00" d="M1285.3,359.6 1276.3,372.9 1267.5,385.9 1258.9,398.7 1250.6,411.2 1242.5,423.5 1234.6,435.5 1226.9,447.3 1219.4,458.8 1212,470.2 1204.9,481.4 1198,492.3 1191.2,503 1184.5,513.6 1178.1,524 1171.8,534.2 1165.6,544.2 1159.6,554.1 1153.7,563.7 1147.9,573.3 1142.3,582.6 1136.8,591.9 1131.4,600.9 1126.2,609.9 1121,618.6 1116,627.3 1111.1,635.8 1106.3,644.2 1101.6,652.5 1097,660.6 1092.4,668.6 1088,676.5 1083.7,684.3 1079.5,691.9 1075.3,699.5 1071.2,706.9 1067.3,714.3 1063.4,721.5 1059.5,728.7 1055.8,735.7 1052.1,742.6 1048.5,749.5 1045,756.2 1041.5,762.9 1038.1,769.4 1034.8,775.9 1031.5,782.3 1028.3,788.6 1025.2,794.9 1022.1,801 1023.1,801 1026.2,794.9 1029.3,788.6 1032.5,782.3 1035.8,775.9 1039.1,769.4 1042.5,762.9 1046,756.2 1049.5,749.5 1053.1,742.6 1056.8,735.7 1060.5,728.7 1064.4,721.5 1068.3,714.3 1072.2,706.9 1076.3,699.5 1080.5,691.9 1084.7,684.3 1089,676.5 1093.4,668.6 1098,660.6 1102.6,652.5 1107.3,644.2 1112.1,635.8 1117,627.3 1122,618.6 1127.2,609.9 1132.4,600.9 1137.8,591.9 1143.3,582.6 1148.9,573.3 1154.7,563.7 1160.6,554.1 1166.6,544.2 1172.8,534.2 1179.1,524 1185.5,513.6 1192.2,503 1199,492.3 1205.9,481.4 1213,470.2 1220.4,458.8 1227.9,447.3 1235.6,435.5 1243.5,423.5 1251.6,411.2 1259.9,398.7 1268.5,385.9 1277.3,372.9 1286.3,359.6Z"/>
<path fill="#00ff00" d="M1280.9,385.9 1272.4,398.7 1264.2,411.2 1256.2,423.5 1248.4,435.5 1240.7,447.3 1233.3,458.8 1226.1,470.2 1219,481.4 1212.2,492.3 1205.5,503 1198.9,513.6 1192.5,524 1186.3,534.2 1180.2,544.2 1174.3,554.1 1168.4,563.7 1162.8,573.3 1157.2,582.6 1151.8,591.9 1146.5,600.9 1141.3,609.9 1136.3,618.6 1131.3,627.3 1126.5,635.8 1121.7,644.2 1117.1,652.5 1112.5,660.6 1108.1,668.6 1103.7,676.5 1099.5,684.3 1095.3,691.9 1091.2,699.5 1087.2,706.9 1083.3,714.3 1079.5,721.5 1075.7,728.7 1072,735.7 1068.4,742.6 1064.9,749.5 1061.4,756.2 1058,762.9 1054.7,769.4 1051.4,775.9 1048.2,782.3 1045.1,788.6 1042,794.9 1039,801 1040,801 1043,794.9 1046.1,788.6 1049.2,782.3 1052.4,775.9 1055.7,769.4 1059,762.9 1062.4,756.2 1065.9,749.5 1069.4,742.6 1073,735.7 1076.7,728.7 1080.5,721.5 1084.3,714.3 1088.2,706.9 1092.2,699.5 1096.3,691.9 1100.5,684.3 1104.7,676.5 1109.1,668.6 1113.5,660.6 1118.1,652.5 1122.7,644.2 1127.5,635.8 1132.3,627.3 1137.3,618.6 1142.3,609.9 1147.5,600.9 1152.8,591.9 1158.2,582.6 1163.8,573.3 1169.4,563.7 1175.3,554.1 1181.2,544.2 1187.3,534.2 1193.5,524 1199.9,513.6 1206.5,503 1213.2,492.3 1220,481.4 1227.1,470.2 1234.3,458.8 1241.7,447.3 1249.4,435.5 1257.2,423.5 1265.2,411.2 1273.4,398.7 1281.9,385.9Z"/>
<path fill="#00ff00" d="M1285.4,398.7 1277.3,411.2 1269.3,423.5 1261.6,435.5 1254.1,447.3 1246.7,458.8 1239.6,470.2 1232.6,481.4 1225.8,492.3 1219.2,503 1212.7,513.6 1206.4,524 1200.2,534.2 1194.2,544.2 1188.3,554.1 1182.6,563.7 1177,573.3 1171.5,582.6 1166.2,591.9 1161,600.9 1155.9,609.9 1150.9,618.6 1146,627.3 1141.2,635.8 1136.5,644.2 1132,652.5 1127.5,660.6 1123.1,668.6 1118.8,676.5 1114.6,684.3 1110.5,691.9 1106.5,699.5 1102.6,706.9 1098.7,714.3 1094.9,721.5 1091.2,728.7 1087.6,735.7 1084.1,742.6 1080.6,749.5 1077.2,756.2 1073.9,762.9 1070.6,769.4 1067.4,775.9 1064.2,782.3 1061.2,788.6 1058.1,794.9 1055.2,801 1056.2,801 1059.1,794.9 1062.2,788.6 1065.2,782.3 1068.4,775.9 1071.6,769.4 1074.9,762.9 1078.2,756.2 1081.6,749.5 1085.1,742.6 1088.6,735.7 1092.2,728.7 1095.9,721.5 1099.7,714.3 1103.6,706.9 1107.5,699.5 1111.5,691.9 1115.6,684.3 1119.8,676.5 1124.1,668.6 1128.5,660.6 1133,652.5 1137.5,644.2 1142.2,635.8 1147,627.3 1151.9,618.6 1156.9,609.9 1162,600.9 1167.2,591.9 1172.5,582.6 1178,573.3 1183.6,563.7 1189.3,554.1 1195.2,544.2 1201.2,534.2 1207.4,524 1213.7,513.6 1220.2,503 1226.8,492.3 1233.6,481.4 1240.6,470.2 1247.7,458.8 1255.1,447.3 1262.6,435.5 1270.3,423.5 1278.3,411.2 1286.4,398.7Z"/>
<path fill="#00ff00" d="M1281.9,423.5 1274.3,435.5 1266.8,447.3 1259.6,458.8 1252.5,470.2 1245.6,481.4 1238.9,492.3 1232.3,503 1225.9,513.6 1219.7,524 1213.6,534.2 1207.7,544.2 1201.9,554.1 1196.2,563.7 1190.7,573.3 1185.3,582.6 1180,591.9 1174.8,600.9 1169.8,609.9 1164.9,618.6 1160,627.3 1155.3,635.8 1150.7,644.2 1146.2,652.5 1141.8,660.6 1137.5,668.6 1133.3,676.5 1129.2,684.3 1125.1,691.9 1121.2,699.5 1117.3,706.9 1113.5,714.3 1109.8,721.5 1106.2,728.7 1102.6,735.7 1099.1,742.6 1095.7,749.5 1092.3,756.2 1089.1,762.9 1085.9,769.4 1082.7,775.9 1079.6,782.3 1076.6,788.6 1073.6,794.9 1070.7,801 1071.7,801 1074.6,794.9 1077.6,788.6 1080.6,782.3 1083.7,775.9 1086.9,769.4 1090.1,762.9 1093.3,756.2 1096.7,749.5 1100.1,742.6 1103.6,735.7 1107.2,728.7 1110.8,721.5 1114.5,714.3 1118.3,706.9 1122.2,699.5 1126.1,691.9 1130.2,684.3 1134.3,676.5 1138.5,668.6 1142.8,660.6 1147.2,652.5 1151.7,644.2 1156.3,635.8 1161,627.3 1165.9,618.6 1170.8,609.9 1175.8,600.9 1181,591.9 1186.3,582.6 1191.7,573.3 1197.2,563.7 1202.9,554.1 1208.7,544.2 1214.6,534.2 1220.7,524 1226.9,513.6 1233.3,503 1239.9,492.3 1246.6,481.4 1253.5,470.2 1260.6,458.8 1267.8,447.3 1275.3,435.5 1282.9,423.5Z"/>
<path fill="#00ff00" d="M1279.1,447.3 1271.9,458.8 1264.9,470.2 1258.1,481.4 1251.4,492.3 1244.9,503 1238.6,513.6 1232.5,524 1226.4,534.2 1220.6,544.2 1214.8,554.1 1209.3,563.7 1203.8,573.3 1198.5,582.6 1193.3,591.9 1188.2,600.9 1183.2,609.9 1178.3,618.6 1173.6,627.3 1168.9,635.8 1164.4,644.2 1159.9,652.5 1155.6,660.6 1151.4,668.6 1147.2,676.5 1143.1,684.3 1139.2,691.9 1135.3,699.5 1131.4,706.9 1127.7,714.3 1124.1,721.5 1120.5,728.7 1117,735.7 1113.6,742.6 1110.2,749.5 1106.9,756.2 1103.7,762.9 1100.5,769.4 1097.4,775.9 1094.4,782.3 1091.4,788.6 1088.5,794.9 1085.7,801 1086.7,801 1089.5,794.9 1092.4,788.6 1095.4,782.3 1098.4,775.9 1101.5,769.4 1104.7,762.9 1107.9,756.2 1111.2,749.5 1114.6,742.6 1118,735.7 1121.5,728.7 1125.1,721.5 1128.7,714.3 1132.4,706.9 1136.3,699.5 1140.2,691.9 1144.1,684.3 1148.2,676.5 1152.4,668.6 1156.6,660.6 1160.9,652.5 1165.4,644.2 1169.9,635.8 1174.6,627.3 1179.3,618.6 1184.2,609.9 1189.2,600.9 1194.3,591.9 1199.5,582.6 1204.8,573.3 1210.3,563.7 1215.8,554.1 1221.6,544.2 1227.4,534.2 1233.5,524 1239.6,513.6 1245.9,503 1252.4,492.3 1259.1,481.4 1265.9,470.2 1272.9,458.8 1280.1,447.3Z"/>
<path fill="#0000ff" d="M-35.7,660.1 -26.4,668.1 -17.1,676 -7.7,683.8 1.7,691.4 11.2,699 20.7,706.4 30.3,713.8 39.9,721 49.5,728.2 59.2,735.2 68.9,742.1 78.6,749 88.4,755.7 98.2,762.4 108,768.9 117.8,775.4 127.6,781.8 137.5,788.1 147.3,794.4 157.2,800.5 157.2,801.5 147.3,795.4 137.5,789.1 127.6,782.8 117.8,776.4 108,769.9 98.2,763.4 88.4,756.7 78.6,750 68.9,743.1 59.2,736.2 49.5,729.2 39.9,722 30.3,714.8 20.7,707.4 11.2,700 1.7,692.4 -7.7,684.8 -17.1,677 -26.4,669.1 -35.7,661.1Z"/>
<path fill="#0000ff" d="M-38.6,534.2 -29.1,544.2 -19.5,554.1 -18.5,554.1 -28.1,544.2 -37.6,534.2ZM-19,553.6 -9.2,563.2 0.6,572.8 10.5,582.1 20.5,591.4 30.6,600.4 40.8,609.4 51.1,618.1 61.5,626.8 71.9,635.3 82.4,643.7 92.9,652 103.5,660.1 114.2,668.1 124.9,676 135.7,683.8 146.5,691.4 157.4,699 168.2,706.4 179.2,713.8 190.1,721 201.1,728.2 212.1,735.2 223.2,742.1 234.2,749 245.3,755.7 256.4,762.4 267.5,768.9 278.6,775.4 289.7,781.8 300.9,788.1 312,794.4 323.1,800.5 323.1,801.5 312,795.4 300.9,789.1 289.7,782.8 278.6,776.4 267.5,769.9 256.4,763.4 245.3,756.7 234.2,750 223.2,743.1 212.1,736.2 201.1,729.2 190.1,722 179.2,714.8 168.2,707.4 157.4,700 146.5,692.4 135.7,684.8 124.9,677 114.2,669.1 103.5,661.1 92.9,653 82.4,644.7 71.9,636.3 61.5,627.8 51.1,619.1 40.8,610.4 30.6,601.4 20.5,592.4 10.5,583.1 0.6,573.8 -9.2,564.2 -19,554.6Z"/>
<path fill="#0000ff" d="M-40.3,398.7 -31.2,411.2 -21.9,423.5 -12.4,435.5 -2.8,447.3 7.1,458.8 17.1,470.2 27.3,481.4 37.6,492.3 48.1,503 49.1,503 38.6,492.3 28.3,481.4 18.1,470.2 8.1,458.8 -1.8,447.3 -11.4,435.5 -20.9,423.5 -30.2,411.2 -39.3,398.7ZM48.6,502.5 59.2,513.1 69.9,523.5 80.8,533.7 91.8,543.7 102.9,553.6 114.1,563.2 125.4,572.8 136.8,582.1 148.3,591.4 159.8,600.4 171.5,609.4 183.2,618.1 195,626.8 206.8,635.3 218.8,643.7 230.7,652 242.8,660.1 254.8,668.1 266.9,676 279.1,683.8 291.3,691.4 303.5,699 315.8,706.4 328,713.8 340.4,721 352.7,728.2 365,735.2 377.4,742.1 389.8,749 402.2,755.7 414.6,762.4 427,768.9 439.4,775.4 451.8,781.8 464.2,788.1 476.7,794.4 489.1,800.5 489.1,801.5 476.7,795.4 464.2,789.1 451.8,782.8 439.4,776.4 427,769.9 414.6,763.4 402.2,756.7 389.8,750 377.4,743.1 365,736.2 352.7,729.2 340.4,722 328,714.8 315.8,707.4 303.5,700 291.3,692.4 279.1,684.8 266.9,677 254.8,669.1 242.8,661.1 230.7,653 218.8,644.7 206.8,636.3 195,627.8 183.2,619.1 171.5,610.4 159.8,601.4 148.3,592.4 136.8,583.1 125.4,573.8 114.1,564.2 102.9,554.6 91.8,544.7 80.8,534.7 69.9,524.5 59.2,514.1 48.6,503.5Z"/>
<path fill="#0000ff" d="M-39.9,242 -32.4,257.9 -24.5,273.5 -16.3,288.6 -7.7,303.5 1.2,318 10.3,332.1 19.8,346 29.5,359.6 39.4,372.9 49.7,385.9 60.1,398.7 70.7,411.2 81.6,423.5 92.6,435.5 103.8,447.3 115.2,458.8 116.2,458.8 104.8,447.3 93.6,435.5 82.6,423.5 71.7,411.2 61.1,398.7 50.7,385.9 40.4,372.9 30.5,359.6 20.8,346 11.3,332.1 2.2,318 -6.7,303.5 -15.3,288.6 -23.5,273.5 -31.4,257.9 -38.9,242ZM115.7,458.3 127.3,469.7 139,480.9 150.9,491.8 162.9,502.5 175,513.1 187.3,523.5 199.7,533.7 212.1,543.7 224.7,553.6 237.4,563.2 250.2,572.8 263.1,582.1 276,591.4 289,600.4 302.1,609.4 315.3,618.1 328.5,626.8 341.8,635.3 355.1,643.7 368.5,652 382,660.1 395.4,668.1 408.9,676 422.5,683.8 436.1,691.4 449.7,699 463.3,706.4 476.9,713.8 490.6,721 504.3,728.2 518,735.2 531.7,742.1 545.4,749 559.1,755.7 572.8,762.4 586.5,768.9 600.2,775.4 613.9,781.8 627.6,788.1 641.3,794.4 655,800.5 655,801.5 641.3,795.4 627.6,789.1 613.9,782.8 600.2,776.4 586.5,769.9 572.8,763.4 559.1,756.7 545.4,750 531.7,743.1 518,736.2 504.3,729.2 490.6,722 476.9,714.8 463.3,707.4 449.7,700 436.1,692.4 422.5,684.8 408.9,677 395.4,669.1 382,661.1 368.5,653 355.1,644.7 341.8,636.3 328.5,627.8 315.3,619.1 302.1,610.4 289,601.4 276,592.4 263.1,583.1 250.2,573.8 237.4,564.2 224.7,554.6 212.1,544.7 199.7,534.7 187.3,524.5 175,514.1 162.9,503.5 150.9,492.8 139,481.9 127.3,470.7 115.7,459.3Z"/>
<path fill="#0000ff" d="M-21.7,68 -19.5,78.9 -14.7,99.1 -9.4,118.7 -3.4,137.7 3,156.3 10,174.3 17.5,191.9 25.5,209 33.8,225.7 42.6,242 51.8,257.9 61.3,273.5 71.2,288.6 81.4,303.5 91.9,318 102.6,332.1 113.7,346 125,359.6 136.6,372.9 148.4,385.9 160.4,398.7 172.6,411.2 173.6,411.2 161.4,398.7 149.4,385.9 137.6,372.9 126,359.6 114.7,346 103.6,332.1 92.9,318 82.4,303.5 72.2,288.6 62.3,273.5 52.8,257.9 43.6,242 34.8,225.7 26.5,209 18.5,191.9 11,174.3 4,156.3 -2.4,137.7 -8.4,118.7 -13.7,99.1 -18.5,78.9 -20.7,68ZM173.1,410.7 185.6,423 198.2,435 211,446.8 223.9,458.3 237,469.7 250.3,480.9 263.7,491.8 277.2,502.5 290.9,513.1 304.6,523.5 318.5,533.7 332.5,543.7 346.6,553.6 360.8,563.2 375,572.8 389.4,582.1 403.8,591.4 418.2,600.4 432.8,609.4 447.4,618.1 462.1,626.8 476.8,635.3 491.5,643.7 506.3,652 521.2,660.1 536,668.1 550.9,676 565.9,683.8 580.8,691.4 595.8,699 610.8,706.4 625.8,713.8 640.8,721 655.9,728.2 670.9,735.2 685.9,742.1 700.9,749 716,755.7 731,762.4 746,768.9 761,775.4 776,781.8 791,788.1 806,794.4 820.9,800.5 820.9,801.5 806,795.4 791,789.1 776,782.8 761,776.4 746,769.9 731,763.4 716,756.7 700.9,750 685.9,743.1 670.9,736.2 655.9,729.2 640.8,722 625.8,714.8 610.8,707.4 595.8,700 580.8,692.4 565.9,684.8 550.9,677 536,669.1 521.2,661.1 506.3,653 491.5,644.7 476.8,636.3 462.1,627.8 447.4,619.1 432.8,610.4 418.2,601.4 403.8,592.4 389.4,583.1 375,573.8 360.8,564.2 346.6,554.6 332.5,544.7 318.5,534.7 304.6,524.5 290.9,514.1 277.2,503.5 263.7,492.8 250.3,481.9 237,470.7 223.9,459.3 211,447.8 198.2,436 185.6,424 173.1,411.7Z"/>
<path fill="#0000ff" d="M44.6,68 47.8,78.9 54.2,99.1 61.3,118.7 69,137.7 77.1,156.3 85.8,174.3 95,191.9 104.6,209 114.7,225.7 125.1,242 135.9,257.9 147.1,273.5 158.6,288.6 170.4,303.5 182.6,318 195,332.1 207.6,346 220.6,359.6 233.7,372.9 234.7,372.9 221.6,359.6 208.6,346 196,332.1 183.6,318 171.4,303.5 159.6,288.6 148.1,273.5 136.9,257.9 126.1,242 115.7,225.7 105.6,209 96,191.9 86.8,174.3 78.1,156.3 70,137.7 62.3,118.7 55.2,99.1 48.8,78.9 45.6,68ZM234.2,372.4 247.6,385.4 261.2,398.2 275.1,410.7 289,423 303.2,435 317.6,446.8 332.1,458.3 346.7,469.7 361.5,480.9 376.5,491.8 391.5,502.5 406.7,513.1 422,523.5 437.4,533.7 452.8,543.7 468.4,553.6 484.1,563.2 499.8,572.8 515.6,582.1 531.5,591.4 547.4,600.4 563.4,609.4 579.5,618.1 595.6,626.8 611.7,635.3 627.9,643.7 644.1,652 660.4,660.1 676.7,668.1 693,676 709.3,683.8 725.6,691.4 742,699 758.3,706.4 774.7,713.8 791.1,721 807.4,728.2 823.8,735.2 840.2,742.1 856.5,749 872.9,755.7 889.2,762.4 905.5,768.9 921.8,775.4 938.1,781.8 954.4,788.1 970.6,794.4 986.9,800.5 986.9,801.5 970.6,795.4 954.4,789.1 938.1,782.8 921.8,776.4 905.5,769.9 889.2,763.4 872.9,756.7 856.5,750 840.2,743.1 823.8,736.2 807.4,729.2 791.1,722 774.7,714.8 758.3,707.4 742,700 725.6,692.4 709.3,684.8 693,677 676.7,669.1 660.4,661.1 644.1,653 627.9,644.7 611.7,636.3 595.6,627.8 579.5,619.1 563.4,610.4 547.4,601.4 531.5,592.4 515.6,583.1 499.8,573.8 484.1,564.2 468.4,554.6 452.8,544.7 437.4,534.7 422,524.5 406.7,514.1 391.5,503.5 376.5,492.8 361.5,481.9 346.7,470.7 332.1,459.3 317.6,447.8 303.2,436 289,424 275.1,411.7 261.2,399.2 247.6,386.4 234.2,373.4Z"/>
<path fill="#0000ff" d="M111,68 115,78.9 123.2,99.1 132,118.7 141.3,137.7 151.2,156.3 161.6,174.3 172.5,191.9 183.8,209 195.5,225.7 207.6,242 220.1,257.9 232.9,273.5 246,288.6 259.5,303.5 273.3,318 287.3,332.1 288.3,332.1 274.3,318 260.5,303.5 247,288.6 233.9,273.5 221.1,257.9 208.6,242 196.5,225.7 184.8,209 173.5,191.9 162.6,174.3 152.2,156.3 142.3,137.7 133,118.7 124.2,99.1 116,78.9 112,68ZM287.8,331.6 302.1,345.5 316.6,359.1 331.4,372.4 346.4,385.4 361.6,398.2 377,410.7 392.5,423 408.3,435 424.2,446.8 440.2,458.3 456.5,469.7 472.8,480.9 489.3,491.8 505.8,502.5 522.5,513.1 539.3,523.5 556.2,533.7 573.2,543.7 590.3,553.6 607.4,563.2 624.6,572.8 641.9,582.1 659.3,591.4 676.7,600.4 694.1,609.4 711.6,618.1 729.1,626.8 746.7,635.3 764.3,643.7 781.9,652 799.6,660.1 817.3,668.1 835,676 852.7,683.8 870.4,691.4 888.1,699 905.8,706.4 923.6,713.8 941.3,721 959,728.2 976.7,735.2 994.4,742.1 1012.1,749 1029.8,755.7 1047.4,762.4 1065.1,768.9 1082.7,775.4 1100.2,781.8 1117.8,788.1 1135.3,794.4 1152.8,800.5 1152.8,801.5 1135.3,795.4 1117.8,789.1 1100.2,782.8 1082.7,776.4 1065.1,769.9 1047.4,763.4 1029.8,756.7 1012.1,750 994.4,743.1 976.7,736.2 959,729.2 941.3,722 923.6,714.8 905.8,707.4 888.1,700 870.4,692.4 852.7,684.8 835,677 817.3,669.1 799.6,661.1 781.9,653 764.3,644.7 746.7,636.3 729.1,627.8 711.6,619.1 694.1,610.4 676.7,601.4 659.3,592.4 641.9,583.1 624.6,573.8 607.4,564.2 590.3,554.6 573.2,544.7 556.2,534.7 539.3,524.5 522.5,514.1 505.8,503.5 489.3,492.8 472.8,481.9 456.5,470.7 440.2,459.3 424.2,447.8 408.3,436 392.5,424 377,411.7 361.6,399.2 346.4,386.4 331.4,373.4 316.6,360.1 302.1,346.5 287.8,332.6Z"/>
<path fill="#0000ff" d="M177.3,68 182.3,78.9 192.2,99.1 202.7,118.7 213.7,137.7 225.3,156.3 237.4,174.3 249.9,191.9 262.9,209 276.3,225.7 290.1,242 304.2,257.9 318.7,273.5 333.5,288.6 334.5,288.6 319.7,273.5 305.2,257.9 291.1,242 277.3,225.7 263.9,209 250.9,191.9 238.4,174.3 226.3,156.3 214.7,137.7 203.7,118.7 193.2,99.1 183.3,78.9 178.3,68ZM334,288.1 349.1,303 364.5,317.5 380.1,331.6 396,345.5 412.2,359.1 428.5,372.4 445.1,385.4 461.9,398.2 478.9,410.7 496,423 513.3,435 530.8,446.8 548.4,458.3 566.2,469.7 584,480.9 602,491.8 620.2,502.5 638.4,513.1 656.7,523.5 675.1,533.7 693.6,543.7 712.1,553.6 730.7,563.2 749.4,572.8 768.2,582.1 787,591.4 805.9,600.4 824.8,609.4 843.7,618.1 862.7,626.8 881.7,635.3 900.7,643.7 919.7,652 938.8,660.1 957.9,668.1 977,676 996.1,683.8 1015.2,691.4 1034.3,699 1053.4,706.4 1072.4,713.8 1091.5,721 1110.6,728.2 1129.6,735.2 1148.7,742.1 1167.7,749 1186.7,755.7 1205.6,762.4 1224.6,768.9 1243.5,775.4 1262.3,781.8 1281.2,788.1 1281.2,789.1 1262.3,782.8 1243.5,776.4 1224.6,769.9 1205.6,763.4 1186.7,756.7 1167.7,750 1148.7,743.1 1129.6,736.2 1110.6,729.2 1091.5,722 1072.4,714.8 1053.4,707.4 1034.3,700 1015.2,692.4 996.1,684.8 977,677 957.9,669.1 938.8,661.1 919.7,653 900.7,644.7 881.7,636.3 862.7,627.8 843.7,619.1 824.8,610.4 805.9,601.4 787,592.4 768.2,583.1 749.4,573.8 730.7,564.2 712.1,554.6 693.6,544.7 675.1,534.7 656.7,524.5 638.4,514.1 620.2,503.5 602,492.8 584,481.9 566.2,470.7 548.4,459.3 530.8,447.8 513.3,436 496,424 478.9,411.7 461.9,399.2 445.1,386.4 428.5,373.4 412.2,360.1 396,346.5 380.1,332.6 364.5,318.5 349.1,304 334,289.1Z"/>
<path fill="#0000ff" d="M243.7,68 249.6,78.9 261.2,99.1 273.4,118.7 286.1,137.7 299.4,156.3 313.2,174.3 327.4,191.9 342.1,209 357.1,225.7 372.5,242 388.3,257.9 389.3,257.9 373.5,242 358.1,225.7 343.1,209 328.4,191.9 314.2,174.3 300.4,156.3 287.1,137.7 274.4,118.7 262.2,99.1 250.6,78.9 244.7,68ZM388.8,257.4 405,273 421.4,288.1 438.1,303 455.2,317.5 472.4,331.6 490,345.5 507.7,359.1 525.7,372.4 543.9,385.4 562.2,398.2 580.8,410.7 599.5,423 618.4,435 637.4,446.8 656.6,458.3 675.9,469.7 695.3,480.9 714.8,491.8 734.5,502.5 754.2,513.1 774,523.5 793.9,533.7 813.9,543.7 834,553.6 854.1,563.2 874.3,572.8 894.5,582.1 914.7,591.4 935.1,600.4 955.4,609.4 975.8,618.1 996.2,626.8 1016.6,635.3 1037.1,643.7 1057.5,652 1078,660.1 1098.5,668.1 1119,676 1139.5,683.8 1159.9,691.4 1180.4,699 1200.9,706.4 1221.3,713.8 1241.8,721 1262.2,728.2 1282.6,735.2 1282.6,736.2 1262.2,729.2 1241.8,722 1221.3,714.8 1200.9,707.4 1180.4,700 1159.9,692.4 1139.5,684.8 1119,677 1098.5,669.1 1078,661.1 1057.5,653 1037.1,644.7 1016.6,636.3 996.2,627.8 975.8,619.1 955.4,610.4 935.1,601.4 914.7,592.4 894.5,583.1 874.3,573.8 854.1,564.2 834,554.6 813.9,544.7 793.9,534.7 774,524.5 754.2,514.1 734.5,503.5 714.8,492.8 695.3,481.9 675.9,470.7 656.6,459.3 637.4,447.8 618.4,436 599.5,424 580.8,411.7 562.2,399.2 543.9,386.4 525.7,373.4 507.7,360.1 490,346.5 472.4,332.6 455.2,318.5 438.1,304 421.4,289.1 405,274 388.8,258.4Z"/>
<path fill="#0000ff" d="M310,68 316.8,78.9 330.1,99.1 344.1,118.7 358.5,137.7 373.5,156.3 389,174.3 404.9,191.9 421.2,209 422.2,209 405.9,191.9 390,174.3 374.5,156.3 359.5,137.7 345.1,118.7 331.1,99.1 317.8,78.9 311,68ZM421.7,208.5 438.4,225.2 455.5,241.5 473,257.4 490.7,273 508.8,288.1 527.2,303 545.9,317.5 564.8,331.6 583.9,345.5 603.3,359.1 622.8,372.4 642.6,385.4 662.6,398.2 682.7,410.7 703,423 723.5,435 744,446.8 764.8,458.3 785.6,469.7 806.6,480.9 827.6,491.8 848.8,502.5 870,513.1 891.4,523.5 912.8,533.7 934.3,543.7 955.8,553.6 977.4,563.2 999.1,572.8 1020.8,582.1 1042.5,591.4 1064.3,600.4 1086.1,609.4 1107.9,618.1 1129.7,626.8 1151.6,635.3 1173.5,643.7 1195.3,652 1217.2,660.1 1239.1,668.1 1261,676 1282.9,683.8 1282.9,684.8 1261,677 1239.1,669.1 1217.2,661.1 1195.3,653 1173.5,644.7 1151.6,636.3 1129.7,627.8 1107.9,619.1 1086.1,610.4 1064.3,601.4 1042.5,592.4 1020.8,583.1 999.1,573.8 977.4,564.2 955.8,554.6 934.3,544.7 912.8,534.7 891.4,524.5 870,514.1 848.8,503.5 827.6,492.8 806.6,481.9 785.6,470.7 764.8,459.3 744,447.8 723.5,436 703,424 682.7,411.7 662.6,399.2 642.6,386.4 622.8,373.4 603.3,360.1 583.9,346.5 564.8,332.6 545.9,318.5 527.2,304 508.8,289.1 490.7,274 473,258.4 455.5,242.5 438.4,226.2 421.7,209.5Z"/>
<path fill="#0000ff" d="M376.4,68 384.1,78.9 399.1,99.1 414.8,118.7 430.9,137.7 447.6,156.3 464.8,174.3 465.8,174.3 448.6,156.3 431.9,137.7 415.8,118.7 400.1,99.1 385.1,78.9 377.4,68ZM465.3,173.8 482.8,191.4 500.9,208.5 519.2,225.2 538,241.5 557.1,257.4 576.5,273 596.3,288.1 616.3,303 636.5,317.5 657.1,331.6 677.8,345.5 698.8,359.1 720,372.4 741.4,385.4 762.9,398.2 784.6,410.7 806.5,423 828.5,435 850.7,446.8 872.9,458.3 895.3,469.7 917.8,480.9 940.4,491.8 963.1,502.5 985.9,513.1 1008.7,523.5 1031.6,533.7 1054.6,543.7 1077.7,553.6 1100.7,563.2 1123.9,572.8 1147,582.1 1170.2,591.4 1193.5,600.4 1216.7,609.4 1240,618.1 1263.3,626.8 1263.3,627.8 1240,619.1 1216.7,610.4 1193.5,601.4 1170.2,592.4 1147,583.1 1123.9,573.8 1100.7,564.2 1077.7,554.6 1054.6,544.7 1031.6,534.7 1008.7,524.5 985.9,514.1 963.1,503.5 940.4,492.8 917.8,481.9 895.3,470.7 872.9,459.3 850.7,447.8 828.5,436 806.5,424 784.6,411.7 762.9,399.2 741.4,386.4 720,373.4 698.8,360.1 677.8,346.5 657.1,332.6 636.5,318.5 616.3,304 596.3,289.1 576.5,274 557.1,258.4 538,242.5 519.2,226.2 500.9,209.5 482.8,192.4 465.3,174.8Z"/>
<path fill="#0000ff" d="M442.7,68 451.3,78.9 468.1,99.1 485.4,118.7 503.3,137.7 521.7,156.3 522.7,156.3 504.3,137.7 486.4,118.7 469.1,99.1 452.3,78.9 443.7,68ZM522.2,155.8 541,173.8 560.3,191.4 580,208.5 600.1,225.2 620.5,241.5 641.3,257.4 662.3,273 683.7,288.1 705.3,303 727.2,317.5 749.4,331.6 771.8,345.5 794.4,359.1 817.1,372.4 840.1,385.4 863.2,398.2 886.5,410.7 910,423 933.6,435 957.3,446.8 981.1,458.3 1005,469.7 1029.1,480.9 1053.2,491.8 1077.4,502.5 1101.7,513.1 1126.1,523.5 1150.5,533.7 1175,543.7 1199.5,553.6 1224.1,563.2 1248.7,572.8 1273.3,582.1 1273.3,583.1 1248.7,573.8 1224.1,564.2 1199.5,554.6 1175,544.7 1150.5,534.7 1126.1,524.5 1101.7,514.1 1077.4,503.5 1053.2,492.8 1029.1,481.9 1005,470.7 981.1,459.3 957.3,447.8 933.6,436 910,424 886.5,411.7 863.2,399.2 840.1,386.4 817.1,373.4 794.4,360.1 771.8,346.5 749.4,332.6 727.2,318.5 705.3,304 683.7,289.1 662.3,274 641.3,258.4 620.5,242.5 600.1,226.2 580,209.5 560.3,192.4 541,174.8 522.2,156.8Z"/>
<path fill="#0000ff" d="M509.1,68 518.6,78.9 537.1,99.1 556.1,118.7 557.1,118.7 538.1,99.1 519.6,78.9 510.1,68ZM556.6,118.2 576.2,137.2 596.3,155.8 616.8,173.8 637.8,191.4 659.1,208.5 680.9,225.2 703,241.5 725.4,257.4 748.1,273 771.1,288.1 794.4,303 817.9,317.5 841.7,331.6 865.7,345.5 889.9,359.1 914.3,372.4 938.8,385.4 963.6,398.2 988.4,410.7 1013.5,423 1038.6,435 1063.9,446.8 1089.3,458.3 1114.8,469.7 1140.3,480.9 1166,491.8 1191.7,502.5 1217.6,513.1 1243.4,523.5 1269.4,533.7 1269.4,534.7 1243.4,524.5 1217.6,514.1 1191.7,503.5 1166,492.8 1140.3,481.9 1114.8,470.7 1089.3,459.3 1063.9,447.8 1038.6,436 1013.5,424 988.4,411.7 963.6,399.2 938.8,386.4 914.3,373.4 889.9,360.1 865.7,346.5 841.7,332.6 817.9,318.5 794.4,304 771.1,289.1 748.1,274 725.4,258.4 703,242.5 680.9,226.2 659.1,209.5 637.8,192.4 616.8,174.8 596.3,156.8 576.2,138.2 556.6,119.2Z"/>
<path fill="#0000ff" d="M575.4,68 585.9,78.9 586.9,78.9 576.4,68ZM586.4,78.4 606.6,98.6 627.3,118.2 648.6,137.2 670.4,155.8 692.6,173.8 715.2,191.4 738.3,208.5 761.7,225.2 785.5,241.5 809.5,257.4 833.9,273 858.6,288.1 883.5,303 908.6,317.5 934,331.6 959.6,345.5 985.4,359.1 1011.4,372.4 1037.6,385.4 1063.9,398.2 1090.4,410.7 1117,423 1143.7,435 1170.5,446.8 1197.4,458.3 1224.5,469.7 1251.6,480.9 1278.8,491.8 1278.8,492.8 1251.6,481.9 1224.5,470.7 1197.4,459.3 1170.5,447.8 1143.7,436 1117,424 1090.4,411.7 1063.9,399.2 1037.6,386.4 1011.4,373.4 985.4,360.1 959.6,346.5 934,332.6 908.6,318.5 883.5,304 858.6,289.1 833.9,274 809.5,258.4 785.5,242.5 761.7,226.2 738.3,209.5 715.2,192.4 692.6,174.8 670.4,156.8 648.6,138.2 627.3,119.2 606.6,99.6 586.4,79.4Z"/>
<path fill="#0000ff" d="M642.3,67.5 653.6,78.4 675.5,98.6 698,118.2 721,137.2 744.5,155.8 768.4,173.8 792.7,191.4 817.4,208.5 842.5,225.2 867.9,241.5 893.7,257.4 919.7,273 946,288.1 972.5,303 999.3,317.5 1026.4,331.6 1053.6,345.5 1081,359.1 1108.6,372.4 1136.3,385.4 1164.2,398.2 1192.3,410.7 1220.4,423 1248.7,435 1277.1,446.8 1277.1,447.8 1248.7,436 1220.4,424 1192.3,411.7 1164.2,399.2 1136.3,386.4 1108.6,373.4 1081,360.1 1053.6,346.5 1026.4,332.6 999.3,318.5 972.5,304 946,289.1 919.7,274 893.7,258.4 867.9,242.5 842.5,226.2 817.4,209.5 792.7,192.4 768.4,174.8 744.5,156.8 721,138.2 698,119.2 675.5,99.6 653.6,79.4 642.3,68.5Z"/>
<path fill="#0000ff" d="M708.6,67.5 720.9,78.4 744.5,98.6 768.7,118.2 793.4,137.2 818.6,155.8 844.2,173.8 870.2,191.4 896.6,208.5 923.3,225.2 950.4,241.5 977.8,257.4 1005.5,273 1033.4,288.1 1061.6,303 1090,317.5 1118.7,331.6 1147.5,345.5 1176.5,359.1 1205.7,372.4 1235.1,385.4 1264.6,398.2 1264.6,399.2 1235.1,386.4 1205.7,373.4 1176.5,360.1 1147.5,346.5 1118.7,332.6 1090,318.5 1061.6,304 1033.4,289.1 1005.5,274 977.8,258.4 950.4,242.5 923.3,226.2 896.6,209.5 870.2,192.4 844.2,174.8 818.6,156.8 793.4,138.2 768.7,119.2 744.5,99.6 720.9,79.4 708.6,68.5Z"/>
<path fill="#0000ff" d="M775,67.5 788.1,78.4 813.5,98.6 839.4,118.2 865.8,137.2 892.7,155.8 920,173.8 947.7,191.4 975.7,208.5 1004.1,225.2 1032.9,241.5 1061.9,257.4 1091.3,273 1120.9,288.1 1150.7,303 1180.7,317.5 1211,331.6 1241.5,345.5 1272.1,359.1 1272.1,360.1 1241.5,346.5 1211,332.6 1180.7,318.5 1150.7,304 1120.9,289.1 1091.3,274 1061.9,258.4 1032.9,242.5 1004.1,226.2 975.7,209.5 947.7,192.4 920,174.8 892.7,156.8 865.8,138.2 839.4,119.2 813.5,99.6 788.1,79.4 775,68.5Z"/>
<path fill="#0000ff" d="M841.3,67.5 855.4,78.4 882.5,98.6 910.1,118.2 938.2,137.2 966.8,155.8 995.7,173.8 1025.1,191.4 1054.9,208.5 1085,225.2 1115.4,241.5 1146.1,257.4 1177.1,273 1208.3,288.1 1239.8,303 1271.4,317.5 1271.4,318.5 1239.8,304 1208.3,289.1 1177.1,274 1146.1,258.4 1115.4,242.5 1085,226.2 1054.9,209.5 1025.1,192.4 995.7,174.8 966.8,156.8 938.2,138.2 910.1,119.2 882.5,99.6 855.4,79.4 841.3,68.5Z"/>
<path fill="#0000ff" d="M907.7,67.5 922.7,78.4 951.5,98.6 980.8,118.2 1010.6,137.2 1040.8,155.8 1071.5,173.8 1102.6,191.4 1134,208.5 1165.8,225.2 1197.9,241.5 1230.2,257.4 1262.8,273 1262.8,274 1230.2,258.4 1197.9,242.5 1165.8,226.2 1134,209.5 1102.6,192.4 1071.5,174.8 1040.8,156.8 1010.6,138.2 980.8,119.2 951.5,99.6 922.7,79.4 907.7,68.5Z"/>
<path fill="#0000ff" d="M974,67.5 989.9,78.4 1020.4,98.6 1051.5,118.2 1083,137.2 1114.9,155.8 1147.3,173.8 1180.1,191.4 1213.2,208.5 1246.6,225.2 1280.3,241.5 1280.3,242.5 1246.6,226.2 1213.2,209.5 1180.1,192.4 1147.3,174.8 1114.9,156.8 1083,138.2 1051.5,119.2 1020.4,99.6 989.9,79.4 974,68.5Z"/>
<path fill="#0000ff" d="M1040.4,67.5 1057.2,78.4 1089.4,98.6 1122.2,118.2 1155.4,137.2 1189,155.8 1223.1,173.8 1257.5,191.4 1257.5,192.4 1223.1,174.8 1189,156.8 1155.4,138.2 1122.2,119.2 1089.4,99.6 1057.2,79.4 1040.4,68.5Z"/>
<path fill="#ff0000" d="M-43.2,652 -34,660.1 -24.7,668.1 -15.4,676 -6,683.8 3.4,691.4 12.8,699 22.3,706.4 31.8,713.8 41.4,721 51,728.2 60.6,735.2 70.2,742.1 79.8,749 89.5,755.7 99.1,762.4 108.8,768.9 118.4,775.4 128.1,781.8 137.7,788.1 147.3,794.4 156.9,800.5 156.9,801.5 147.3,795.4 137.7,789.1 128.1,782.8 118.4,776.4 108.8,769.9 99.1,763.4 89.5,756.7 79.8,750 70.2,743.1 60.6,736.2 51,729.2 41.4,722 31.8,714.8 22.3,707.4 12.8,700 3.4,692.4 -6,684.8 -15.4,677 -24.7,669.1 -34,661.1 -43.2,653Z"/>
<path fill="#ff0000" d="M-36.8,534.2 -27.3,544.2 -17.7,554.1 -16.7,554.1 -26.3,544.2 -35.8,534.2ZM-17.2,553.6 -7.5,563.2 2.3,572.8 12.2,582.1 22.2,591.4 32.3,600.4 42.5,609.4 52.8,618.1 63.1,626.8 73.5,635.3 83.9,643.7 94.4,652 105,660.1 115.6,668.1 126.2,676 136.8,683.8 147.5,691.4 158.2,699 168.9,706.4 179.6,713.8 190.3,721 200.9,728.2 211.6,735.2 222.2,742.1 232.9,749 243.4,755.7 253.9,762.4 264.4,768.9 274.7,775.4 285,781.8 295.2,788.1 305.3,794.4 315.3,800.5 315.3,801.5 305.3,795.4 295.2,789.1 285,782.8 274.7,776.4 264.4,769.9 253.9,763.4 243.4,756.7 232.9,750 222.2,743.1 211.6,736.2 200.9,729.2 190.3,722 179.6,714.8 168.9,707.4 158.2,700 147.5,692.4 136.8,684.8 126.2,677 115.6,669.1 105,661.1 94.4,653 83.9,644.7 73.5,636.3 63.1,627.8 52.8,619.1 42.5,610.4 32.3,601.4 22.2,592.4 12.2,583.1 2.3,573.8 -7.5,564.2 -17.2,554.6Z"/>
<path fill="#ff0000" d="M-38.5,398.7 -29.4,411.2 -20.2,423.5 -10.7,435.5 -1,447.3 8.8,458.8 18.8,470.2 29,481.4 39.3,492.3 49.8,503 50.8,503 40.3,492.3 30,481.4 19.8,470.2 9.8,458.8 -0,447.3 -9.7,435.5 -19.2,423.5 -28.4,411.2 -37.5,398.7ZM50.3,502.5 60.9,513.1 71.7,523.5 82.5,533.7 93.5,543.7 104.6,553.6 115.7,563.2 127,572.8 138.4,582.1 149.8,591.4 161.3,600.4 172.8,609.4 184.4,618.1 196.1,626.8 207.7,635.3 219.4,643.7 231.1,652 242.8,660.1 254.5,668.1 266.2,676 277.8,683.8 289.5,691.4 301,699 312.5,706.4 323.9,713.8 335.2,721 346.5,728.2 357.6,735.2 368.5,742.1 379.3,749 389.9,755.7 400.3,762.4 410.6,768.9 420.6,775.4 430.4,781.8 439.9,788.1 449.2,794.4 458.3,800.5 458.3,801.5 449.2,795.4 439.9,789.1 430.4,782.8 420.6,776.4 410.6,769.9 400.3,763.4 389.9,756.7 379.3,750 368.5,743.1 357.6,736.2 346.5,729.2 335.2,722 323.9,714.8 312.5,707.4 301,700 289.5,692.4 277.8,684.8 266.2,677 254.5,669.1 242.8,661.1 231.1,653 219.4,644.7 207.7,636.3 196.1,627.8 184.4,619.1 172.8,610.4 161.3,601.4 149.8,592.4 138.4,583.1 127,573.8 115.7,564.2 104.6,554.6 93.5,544.7 82.5,534.7 71.7,524.5 60.9,514.1 50.3,503.5Z"/>
<path fill="#ff0000" d="M-38.1,242 -30.6,257.9 -22.7,273.5 -14.5,288.6 -5.9,303.5 2.9,318 12.1,332.1 21.5,346 31.2,359.6 41.2,372.9 51.4,385.9 61.8,398.7 72.5,411.2 83.3,423.5 94.4,435.5 105.6,447.3 117,458.8 118,458.8 106.6,447.3 95.4,435.5 84.3,423.5 73.5,411.2 62.8,398.7 52.4,385.9 42.2,372.9 32.2,359.6 22.5,346 13.1,332.1 3.9,318 -4.9,303.5 -13.5,288.6 -21.7,273.5 -29.6,257.9 -37.1,242ZM117.5,458.3 129,469.7 140.7,480.9 152.6,491.8 164.6,502.5 176.7,513.1 188.9,523.5 201.2,533.7 213.6,543.7 226.1,553.6 238.6,563.2 251.2,572.8 263.9,582.1 276.5,591.4 289.2,600.4 301.9,609.4 314.6,618.1 327.2,626.8 339.8,635.3 352.3,643.7 364.8,652 377.2,660.1 389.4,668.1 401.5,676 413.5,683.8 425.3,691.4 436.9,699 448.2,706.4 459.4,713.8 470.2,721 480.8,728.2 491,735.2 501,742.1 510.7,749 520,755.7 529,762.4 537.7,768.9 546.1,775.4 554.1,781.8 561.9,788.1 569.4,794.4 576.6,800.5 576.6,801.5 569.4,795.4 561.9,789.1 554.1,782.8 546.1,776.4 537.7,769.9 529,763.4 520,756.7 510.7,750 501,743.1 491,736.2 480.8,729.2 470.2,722 459.4,714.8 448.2,707.4 436.9,700 425.3,692.4 413.5,684.8 401.5,677 389.4,669.1 377.2,661.1 364.8,653 352.3,644.7 339.8,636.3 327.2,627.8 314.6,619.1 301.9,610.4 289.2,601.4 276.5,592.4 263.9,583.1 251.2,573.8 238.6,564.2 226.1,554.6 213.6,544.7 201.2,534.7 188.9,524.5 176.7,514.1 164.6,503.5 152.6,492.8 140.7,481.9 129,470.7 117.5,459.3Z"/>
<path fill="#ff0000" d="M-20,68 -17.7,78.9 -13,99.1 -7.6,118.7 -1.7,137.7 4.8,156.3 11.8,174.3 19.3,191.9 27.2,209 35.6,225.7 44.4,242 53.5,257.9 63.1,273.5 72.9,288.6 83.1,303.5 93.6,318 104.4,332.1 115.5,346 126.8,359.6 138.3,372.9 150.1,385.9 162.2,398.7 174.4,411.2 175.4,411.2 163.2,398.7 151.1,385.9 139.3,372.9 127.8,359.6 116.5,346 105.4,332.1 94.6,318 84.1,303.5 73.9,288.6 64.1,273.5 54.5,257.9 45.4,242 36.6,225.7 28.2,209 20.3,191.9 12.8,174.3 5.8,156.3 -0.7,137.7 -6.6,118.7 -12,99.1 -16.7,78.9 -19,68ZM174.9,410.7 187.3,423 199.9,435 212.6,446.8 225.6,458.3 238.6,469.7 251.8,480.9 265.1,491.8 278.5,502.5 292,513.1 305.6,523.5 319.2,533.7 332.8,543.7 346.5,553.6 360.1,563.2 373.7,572.8 387.3,582.1 400.8,591.4 414.2,600.4 427.5,609.4 440.6,618.1 453.6,626.8 466.4,635.3 479,643.7 491.3,652 503.3,660.1 515,668.1 526.4,676 537.4,683.8 548,691.4 558.2,699 568.1,706.4 577.5,713.8 586.6,721 595.3,728.2 603.6,735.2 611.6,742.1 619.1,749 626.4,755.7 633.3,762.4 639.9,768.9 639.9,769.9 633.3,763.4 626.4,756.7 619.1,750 611.6,743.1 603.6,736.2 595.3,729.2 586.6,722 577.5,714.8 568.1,707.4 558.2,700 548,692.4 537.4,684.8 526.4,677 515,669.1 503.3,661.1 491.3,653 479,644.7 466.4,636.3 453.6,627.8 440.6,619.1 427.5,610.4 414.2,601.4 400.8,592.4 387.3,583.1 373.7,573.8 360.1,564.2 346.5,554.6 332.8,544.7 319.2,534.7 305.6,524.5 292,514.1 278.5,503.5 265.1,492.8 251.8,481.9 238.6,470.7 225.6,459.3 212.6,447.8 199.9,436 187.3,424 174.9,411.7ZM639.4,769.4 645.7,775.9 651.8,782.3 657.5,788.6 663,794.9 668.3,801 669.3,801 664,794.9 658.5,788.6 652.8,782.3 646.7,775.9 640.4,769.4Z"/>
<path fill="#ff0000" d="M46.4,68 49.5,78.9 56,99.1 63.1,118.7 70.7,137.7 78.9,156.3 87.6,174.3 96.8,191.9 106.4,209 116.4,225.7 126.9,242 137.7,257.9 148.9,273.5 160.4,288.6 172.2,303.5 184.3,318 196.7,332.1 209.4,346 222.3,359.6 235.5,372.9 236.5,372.9 223.3,359.6 210.4,346 197.7,332.1 185.3,318 173.2,303.5 161.4,288.6 149.9,273.5 138.7,257.9 127.9,242 117.4,225.7 107.4,209 97.8,191.9 88.6,174.3 79.9,156.3 71.7,137.7 64.1,118.7 57,99.1 50.5,78.9 47.4,68ZM236,372.4 249.4,385.4 262.9,398.2 276.7,410.7 290.6,423 304.7,435 319,446.8 333.3,458.3 347.8,469.7 362.3,480.9 376.9,491.8 391.5,502.5 406.1,513.1 420.6,523.5 435.1,533.7 449.5,543.7 463.8,553.6 478,563.2 492,572.8 505.8,582.1 519.3,591.4 532.5,600.4 545.4,609.4 558,618.1 570.1,626.8 581.8,635.3 593,643.7 603.8,652 614,660.1 623.8,668.1 633.2,676 642.1,683.8 650.5,691.4 658.5,699 666.2,706.4 666.2,707.4 658.5,700 650.5,692.4 642.1,684.8 633.2,677 623.8,669.1 614,661.1 603.8,653 593,644.7 581.8,636.3 570.1,627.8 558,619.1 545.4,610.4 532.5,601.4 519.3,592.4 505.8,583.1 492,573.8 478,564.2 463.8,554.6 449.5,544.7 435.1,534.7 420.6,524.5 406.1,514.1 391.5,503.5 376.9,492.8 362.3,481.9 347.8,470.7 333.3,459.3 319,447.8 304.7,436 290.6,424 276.7,411.7 262.9,399.2 249.4,386.4 236,373.4ZM665.7,706.9 672.9,714.3 679.7,721.5 686.2,728.7 692.4,735.7 698.2,742.6 703.8,749.5 709,756.2 714.1,762.9 718.8,769.4 723.4,775.9 727.7,782.3 731.8,788.6 735.8,794.9 739.5,801 740.5,801 736.8,794.9 732.8,788.6 728.7,782.3 724.4,775.9 719.8,769.4 715.1,762.9 710,756.2 704.8,749.5 699.2,742.6 693.4,735.7 687.2,728.7 680.7,721.5 673.9,714.3 666.7,706.9Z"/>
<path fill="#ff0000" d="M112.7,68 116.8,78.9 125,99.1 133.8,118.7 143.1,137.7 153,156.3 163.4,174.3 174.2,191.9 185.5,209 197.2,225.7 209.3,242 221.8,257.9 234.6,273.5 247.8,288.6 261.2,303.5 275,318 289,332.1 290,332.1 276,318 262.2,303.5 248.8,288.6 235.6,273.5 222.8,257.9 210.3,242 198.2,225.7 186.5,209 175.2,191.9 164.4,174.3 154,156.3 144.1,137.7 134.8,118.7 126,99.1 117.8,78.9 113.7,68ZM289.5,331.6 303.8,345.5 318.3,359.1 333,372.4 347.9,385.4 363,398.2 378.3,410.7 393.6,423 409.1,435 424.6,446.8 440.1,458.3 455.6,469.7 471.1,480.9 486.5,491.8 501.7,502.5 516.9,513.1 531.8,523.5 546.5,533.7 560.9,543.7 575,553.6 588.6,563.2 601.9,572.8 614.6,582.1 626.8,591.4 638.5,600.4 649.6,609.4 660.1,618.1 670.1,626.8 679.5,635.3 688.4,643.7 696.7,652 696.7,653 688.4,644.7 679.5,636.3 670.1,627.8 660.1,619.1 649.6,610.4 638.5,601.4 626.8,592.4 614.6,583.1 601.9,573.8 588.6,564.2 575,554.6 560.9,544.7 546.5,534.7 531.8,524.5 516.9,514.1 501.7,503.5 486.5,492.8 471.1,481.9 455.6,470.7 440.1,459.3 424.6,447.8 409.1,436 393.6,424 378.3,411.7 363,399.2 347.9,386.4 333,373.4 318.3,360.1 303.8,346.5 289.5,332.6ZM696.2,652.5 704.1,660.6 711.6,668.6 718.6,676.5 725.2,684.3 731.4,691.9 737.3,699.5 742.8,706.9 748,714.3 752.9,721.5 757.6,728.7 762,735.7 766.1,742.6 770.1,749.5 773.8,756.2 777.4,762.9 780.8,769.4 784,775.9 787.1,782.3 790,788.6 792.8,794.9 795.5,801 796.5,801 793.8,794.9 791,788.6 788.1,782.3 785,775.9 781.8,769.4 778.4,762.9 774.8,756.2 771.1,749.5 767.1,742.6 763,735.7 758.6,728.7 753.9,721.5 749,714.3 743.8,706.9 738.3,699.5 732.4,691.9 726.2,684.3 719.6,676.5 712.6,668.6 705.1,660.6 697.2,652.5Z"/>
<path fill="#ff0000" d="M179.1,68 184.1,78.9 193.9,99.1 204.4,118.7 215.5,137.7 227.1,156.3 239.2,174.3 251.7,191.9 264.7,209 278.1,225.7 291.8,242 305.9,257.9 320.4,273.5 335.2,288.6 336.2,288.6 321.4,273.5 306.9,257.9 292.8,242 279.1,225.7 265.7,209 252.7,191.9 240.2,174.3 228.1,156.3 216.5,137.7 205.4,118.7 194.9,99.1 185.1,78.9 180.1,68ZM335.7,288.1 350.8,303 366.1,317.5 381.7,331.6 397.6,345.5 413.6,359.1 429.8,372.4 446.1,385.4 462.5,398.2 478.9,410.7 495.4,423 511.8,435 528.1,446.8 544.3,458.3 560.3,469.7 576,480.9 591.5,491.8 606.7,502.5 621.4,513.1 635.6,523.5 649.2,533.7 662.3,543.7 674.7,553.6 686.5,563.2 697.5,572.8 708,582.1 717.7,591.4 726.9,600.4 726.9,601.4 717.7,592.4 708,583.1 697.5,573.8 686.5,564.2 674.7,554.6 662.3,544.7 649.2,534.7 635.6,524.5 621.4,514.1 606.7,503.5 591.5,492.8 576,481.9 560.3,470.7 544.3,459.3 528.1,447.8 511.8,436 495.4,424 478.9,411.7 462.5,399.2 446.1,386.4 429.8,373.4 413.6,360.1 397.6,346.5 381.7,332.6 366.1,318.5 350.8,304 335.7,289.1ZM726.4,600.9 735,609.9 743,618.6 750.5,627.3 757.5,635.8 764,644.2 770.1,652.5 775.9,660.6 781.2,668.6 786.2,676.5 790.9,684.3 795.3,691.9 799.5,699.5 803.4,706.9 807.1,714.3 810.5,721.5 813.8,728.7 816.9,735.7 819.8,742.6 822.6,749.5 825.2,756.2 827.8,762.9 830.1,769.4 832.4,775.9 834.6,782.3 836.7,788.6 838.7,794.9 840.6,801 841.6,801 839.7,794.9 837.7,788.6 835.6,782.3 833.4,775.9 831.1,769.4 828.8,762.9 826.2,756.2 823.6,749.5 820.8,742.6 817.9,735.7 814.8,728.7 811.5,721.5 808.1,714.3 804.4,706.9 800.5,699.5 796.3,691.9 791.9,684.3 787.2,676.5 782.2,668.6 776.9,660.6 771.1,652.5 765,644.2 758.5,635.8 751.5,627.3 744,618.6 736,609.9 727.4,600.9Z"/>
<path fill="#ff0000" d="M245.4,68 251.3,78.9 262.9,99.1 275.1,118.7 287.9,137.7 301.2,156.3 314.9,174.3 329.2,191.9 343.8,209 358.9,225.7 374.3,242 390.1,257.9 391.1,257.9 375.3,242 359.9,225.7 344.8,209 330.2,191.9 315.9,174.3 302.2,156.3 288.9,137.7 276.1,118.7 263.9,99.1 252.3,78.9 246.4,68ZM390.6,257.4 406.7,273 423,288.1 439.7,303 456.6,317.5 473.7,331.6 490.9,345.5 508.2,359.1 525.6,372.4 543,385.4 560.2,398.2 577.4,410.7 594.4,423 611.1,435 627.5,446.8 643.5,458.3 659,469.7 674,480.9 688.3,491.8 701.9,502.5 714.8,513.1 726.9,523.5 738.2,533.7 748.7,543.7 748.7,544.7 738.2,534.7 726.9,524.5 714.8,514.1 701.9,503.5 688.3,492.8 674,481.9 659,470.7 643.5,459.3 627.5,447.8 611.1,436 594.4,424 577.4,411.7 560.2,399.2 543,386.4 525.6,373.4 508.2,360.1 490.9,346.5 473.7,332.6 456.6,318.5 439.7,304 423,289.1 406.7,274 390.6,258.4ZM748.2,544.2 758,554.1 767.1,563.7 775.6,573.3 783.4,582.6 790.7,591.9 797.4,600.9 803.6,609.9 809.4,618.6 814.8,627.3 819.7,635.8 824.4,644.2 828.7,652.5 832.7,660.6 836.4,668.6 839.9,676.5 843.2,684.3 846.3,691.9 849.2,699.5 851.9,706.9 854.4,714.3 856.8,721.5 859.1,728.7 861.3,735.7 863.3,742.6 865.2,749.5 867.1,756.2 868.8,762.9 870.5,769.4 872.1,775.9 873.6,782.3 875.1,788.6 876.5,794.9 877.8,801 878.8,801 877.5,794.9 876.1,788.6 874.6,782.3 873.1,775.9 871.5,769.4 869.8,762.9 868.1,756.2 866.2,749.5 864.3,742.6 862.3,735.7 860.1,728.7 857.8,721.5 855.4,714.3 852.9,706.9 850.2,699.5 847.3,691.9 844.2,684.3 840.9,676.5 837.4,668.6 833.7,660.6 829.7,652.5 825.4,644.2 820.7,635.8 815.8,627.3 810.4,618.6 804.6,609.9 798.4,600.9 791.7,591.9 784.4,582.6 776.6,573.3 768.1,563.7 759,554.1 749.2,544.2Z"/>
<path fill="#ff0000" d="M311.8,68 318.6,78.9 331.9,99.1 345.8,118.7 360.3,137.7 375.3,156.3 390.7,174.3 406.6,191.9 422.9,209 439.6,225.7 440.6,225.7 423.9,209 407.6,191.9 391.7,174.3 376.3,156.3 361.3,137.7 346.8,118.7 332.9,99.1 319.6,78.9 312.8,68ZM440.1,225.2 457.2,241.5 474.6,257.4 492.2,273 510.2,288.1 528.2,303 546.5,317.5 564.8,331.6 583,345.5 601.2,359.1 619.3,372.4 637.1,385.4 654.6,398.2 671.7,410.7 688.3,423 704.3,435 719.5,446.8 734,458.3 747.7,469.7 760.4,480.9 772.2,491.8 783.2,502.5 783.2,503.5 772.2,492.8 760.4,481.9 747.7,470.7 734,459.3 719.5,447.8 704.3,436 688.3,424 671.7,411.7 654.6,399.2 637.1,386.4 619.3,373.4 601.2,360.1 583,346.5 564.8,332.6 546.5,318.5 528.2,304 510.2,289.1 492.2,274 474.6,258.4 457.2,242.5 440.1,226.2ZM782.7,503 792.8,513.6 802.1,524 810.7,534.2 818.6,544.2 825.8,554.1 832.4,563.7 838.5,573.3 844.1,582.6 849.3,591.9 854,600.9 858.4,609.9 862.4,618.6 866.1,627.3 869.6,635.8 872.7,644.2 875.7,652.5 878.5,660.6 881,668.6 883.4,676.5 885.7,684.3 887.8,691.9 889.7,699.5 891.6,706.9 893.3,714.3 894.9,721.5 896.5,728.7 897.9,735.7 899.3,742.6 900.6,749.5 901.9,756.2 903,762.9 904.2,769.4 905.3,775.9 906.3,782.3 907.3,788.6 908.2,794.9 909.2,801 910.2,801 909.2,794.9 908.3,788.6 907.3,782.3 906.3,775.9 905.2,769.4 904,762.9 902.9,756.2 901.6,749.5 900.3,742.6 898.9,735.7 897.5,728.7 895.9,721.5 894.3,714.3 892.6,706.9 890.7,699.5 888.8,691.9 886.7,684.3 884.4,676.5 882,668.6 879.5,660.6 876.7,652.5 873.7,644.2 870.6,635.8 867.1,627.3 863.4,618.6 859.4,609.9 855,600.9 850.3,591.9 845.1,582.6 839.5,573.3 833.4,563.7 826.8,554.1 819.6,544.2 811.7,534.2 803.1,524 793.8,513.6 783.7,503Z"/>
<path fill="#ff0000" d="M378.1,68 385.8,78.9 400.9,99.1 416.5,118.7 432.7,137.7 449.4,156.3 466.5,174.3 484.1,191.9 485.1,191.9 467.5,174.3 450.4,156.3 433.7,137.7 417.5,118.7 401.9,99.1 386.8,78.9 379.1,68ZM484.6,191.4 502.5,208.5 520.8,225.2 539.5,241.5 558.3,257.4 577.4,273 596.6,288.1 615.8,303 634.9,317.5 653.9,331.6 672.6,345.5 691,359.1 708.9,372.4 726.2,385.4 742.8,398.2 758.6,410.7 773.4,423 787.2,435 800,446.8 811.8,458.3 811.8,459.3 800,447.8 787.2,436 773.4,424 758.6,411.7 742.8,399.2 726.2,386.4 708.9,373.4 691,360.1 672.6,346.5 653.9,332.6 634.9,318.5 615.8,304 596.6,289.1 577.4,274 558.3,258.4 539.5,242.5 520.8,226.2 502.5,209.5 484.6,192.4ZM811.3,458.8 822.1,470.2 832,481.4 841,492.3 849.2,503 856.6,513.6 863.4,524 869.5,534.2 875.1,544.2 880.2,554.1 884.9,563.7 889.1,573.3 893,582.6 896.5,591.9 899.7,600.9 902.7,609.9 905.4,618.6 907.9,627.3 910.2,635.8 912.4,644.2 914.3,652.5 916.1,660.6 917.8,668.6 919.4,676.5 920.9,684.3 922.2,691.9 923.5,699.5 924.7,706.9 925.8,714.3 926.9,721.5 927.9,728.7 928.8,735.7 929.7,742.6 930.5,749.5 931.3,756.2 932.1,762.9 932.8,769.4 933.5,775.9 934.2,782.3 934.8,788.6 935.5,794.9 936.1,801 937.1,801 936.5,794.9 935.8,788.6 935.2,782.3 934.5,775.9 933.8,769.4 933.1,762.9 932.3,756.2 931.5,749.5 930.7,742.6 929.8,735.7 928.9,728.7 927.9,721.5 926.8,714.3 925.7,706.9 924.5,699.5 923.2,691.9 921.9,684.3 920.4,676.5 918.8,668.6 917.1,660.6 915.3,652.5 913.4,644.2 911.2,635.8 908.9,627.3 906.4,618.6 903.7,609.9 900.7,600.9 897.5,591.9 894,582.6 890.1,573.3 885.9,563.7 881.2,554.1 876.1,544.2 870.5,534.2 864.4,524 857.6,513.6 850.2,503 842,492.3 833,481.4 823.1,470.2 812.3,458.8Z"/>
<path fill="#ff0000" d="M444.5,68 453.1,78.9 469.9,99.1 487.2,118.7 505.1,137.7 523.4,156.3 524.4,156.3 506.1,137.7 488.2,118.7 470.9,99.1 454.1,78.9 445.5,68ZM523.9,155.8 542.7,173.8 561.9,191.4 581.4,208.5 601.3,225.2 621.3,241.5 641.4,257.4 661.5,273 681.5,288.1 701.2,303 720.6,317.5 739.4,331.6 757.7,345.5 775.1,359.1 791.6,372.4 807,385.4 821.3,398.2 834.5,410.7 834.5,411.7 821.3,399.2 807,386.4 791.6,373.4 775.1,360.1 757.7,346.5 739.4,332.6 720.6,318.5 701.2,304 681.5,289.1 661.5,274 641.4,258.4 621.3,242.5 601.3,226.2 581.4,209.5 561.9,192.4 542.7,174.8 523.9,156.8ZM834,411.2 845.9,423.5 856.8,435.5 866.7,447.3 875.5,458.8 883.5,470.2 890.7,481.4 897.2,492.3 903,503 908.2,513.6 912.9,524 917.2,534.2 921,544.2 924.4,554.1 927.6,563.7 930.4,573.3 932.9,582.6 935.3,591.9 937.4,600.9 939.3,609.9 941.1,618.6 942.6,627.3 944.1,635.8 945.4,644.2 946.7,652.5 947.8,660.6 948.8,668.6 949.8,676.5 950.7,684.3 951.5,691.9 952.2,699.5 952.9,706.9 953.6,714.3 954.2,721.5 954.8,728.7 955.3,735.7 955.8,742.6 956.3,749.5 956.7,756.2 957.2,762.9 957.6,769.4 958,775.9 958.4,782.3 958.7,788.6 959.1,794.9 959.4,801 960.4,801 960.1,794.9 959.7,788.6 959.4,782.3 959,775.9 958.6,769.4 958.2,762.9 957.7,756.2 957.3,749.5 956.8,742.6 956.3,735.7 955.8,728.7 955.2,721.5 954.6,714.3 953.9,706.9 953.2,699.5 952.5,691.9 951.7,684.3 950.8,676.5 949.8,668.6 948.8,660.6 947.7,652.5 946.4,644.2 945.1,635.8 943.6,627.3 942.1,618.6 940.3,609.9 938.4,600.9 936.3,591.9 933.9,582.6 931.4,573.3 928.6,563.7 925.4,554.1 922,544.2 918.2,534.2 913.9,524 909.2,513.6 904,503 898.2,492.3 891.7,481.4 884.5,470.2 876.5,458.8 867.7,447.3 857.8,435.5 846.9,423.5 835,411.2Z"/>
<path fill="#ff0000" d="M510.8,68 520.3,78.9 538.8,99.1 557.9,118.7 558.9,118.7 539.8,99.1 521.3,78.9 511.8,68ZM558.4,118.2 577.9,137.2 597.9,155.8 618.3,173.8 639,191.4 659.9,208.5 681,225.2 702,241.5 722.8,257.4 743.3,273 763.3,288.1 782.7,303 801.2,317.5 818.8,331.6 835.2,345.5 850.3,359.1 864,372.4 864,373.4 850.3,360.1 835.2,346.5 818.8,332.6 801.2,318.5 782.7,304 763.3,289.1 743.3,274 722.8,258.4 702,242.5 681,226.2 659.9,209.5 639,192.4 618.3,174.8 597.9,156.8 577.9,138.2 558.4,119.2ZM863.5,372.9 876,385.9 887.3,398.7 897.3,411.2 906.3,423.5 914.3,435.5 921.5,447.3 927.8,458.8 933.4,470.2 938.4,481.4 942.9,492.3 946.8,503 950.3,513.6 953.5,524 956.3,534.2 958.8,544.2 961,554.1 963,563.7 964.7,573.3 966.3,582.6 967.7,591.9 969,600.9 970.1,609.9 971.1,618.6 972,627.3 972.8,635.8 973.6,644.2 974.2,652.5 974.8,660.6 975.3,668.6 975.8,676.5 976.3,684.3 976.6,691.9 977,699.5 977.3,706.9 977.6,714.3 977.9,721.5 978.1,728.7 978.3,735.7 978.5,742.6 978.7,749.5 978.9,756.2 979.1,762.9 979.3,769.4 979.4,775.9 979.6,782.3 979.7,788.6 979.9,794.9 980,801 981,801 980.9,794.9 980.7,788.6 980.6,782.3 980.4,775.9 980.3,769.4 980.1,762.9 979.9,756.2 979.7,749.5 979.5,742.6 979.3,735.7 979.1,728.7 978.9,721.5 978.6,714.3 978.3,706.9 978,699.5 977.6,691.9 977.3,684.3 976.8,676.5 976.3,668.6 975.8,660.6 975.2,652.5 974.6,644.2 973.8,635.8 973,627.3 972.1,618.6 971.1,609.9 970,600.9 968.7,591.9 967.3,582.6 965.7,573.3 964,563.7 962,554.1 959.8,544.2 957.3,534.2 954.5,524 951.3,513.6 947.8,503 943.9,492.3 939.4,481.4 934.4,470.2 928.8,458.8 922.5,447.3 915.3,435.5 907.3,423.5 898.3,411.2 888.3,398.7 877,385.9 864.5,372.9Z"/>
<path fill="#ff0000" d="M577.2,68 587.6,78.9 588.6,78.9 578.2,68ZM588.1,78.4 608.3,98.6 629,118.2 650.2,137.2 671.7,155.8 693.5,173.8 715.5,191.4 737.4,208.5 759.1,225.2 780.4,241.5 801.1,257.4 821.1,273 840,288.1 857.7,303 874,317.5 888.9,331.6 888.9,332.6 874,318.5 857.7,304 840,289.1 821.1,274 801.1,258.4 780.4,242.5 759.1,226.2 737.4,209.5 715.5,192.4 693.5,174.8 671.7,156.8 650.2,138.2 629,119.2 608.3,99.6 588.1,79.4ZM888.4,332.1 901.8,346 913.8,359.6 924.4,372.9 933.8,385.9 942.1,398.7 949.4,411.2 955.8,423.5 961.4,435.5 966.3,447.3 970.6,458.8 974.4,470.2 977.7,481.4 980.6,492.3 983.1,503 985.3,513.6 987.3,524 989,534.2 990.4,544.2 991.7,554.1 992.8,563.7 993.8,573.3 994.6,582.6 995.3,591.9 996,600.9 996.5,609.9 996.9,618.6 997.3,627.3 997.6,635.8 997.9,644.2 998.1,652.5 998.2,660.6 998.4,668.6 998.5,676.5 998.6,684.3 998.6,691.9 998.6,699.5 998.7,706.9 998.7,714.3 998.7,721.5 998.6,728.7 998.6,735.7 998.6,742.6 998.6,749.5 998.5,756.2 998.5,762.9 998.5,769.4 998.4,775.9 998.4,782.3 998.4,788.6 998.3,794.9 998.3,801 999.3,801 999.3,794.9 999.4,788.6 999.4,782.3 999.4,775.9 999.5,769.4 999.5,762.9 999.5,756.2 999.6,749.5 999.6,742.6 999.6,735.7 999.6,728.7 999.7,721.5 999.7,714.3 999.7,706.9 999.6,699.5 999.6,691.9 999.6,684.3 999.5,676.5 999.4,668.6 999.2,660.6 999.1,652.5 998.9,644.2 998.6,635.8 998.3,627.3 997.9,618.6 997.5,609.9 997,600.9 996.3,591.9 995.6,582.6 994.8,573.3 993.8,563.7 992.7,554.1 991.4,544.2 990,534.2 988.3,524 986.3,513.6 984.1,503 981.6,492.3 978.7,481.4 975.4,470.2 971.6,458.8 967.3,447.3 962.4,435.5 956.8,423.5 950.4,411.2 943.1,398.7 934.8,385.9 925.4,372.9 914.8,359.6 902.8,346 889.4,332.1Z"/>
<path fill="#ff0000" d="M644,67.5 655.3,78.4 677.2,98.6 699.5,118.2 722.1,137.2 745,155.8 767.8,173.8 790.5,191.4 812.7,208.5 834.2,225.2 854.8,241.5 874.3,257.4 892.3,273 908.7,288.1 908.7,289.1 892.3,274 874.3,258.4 854.8,242.5 834.2,226.2 812.7,209.5 790.5,192.4 767.8,174.8 745,156.8 722.1,138.2 699.5,119.2 677.2,99.6 655.3,79.4 644,68.5ZM908.2,288.6 923,303.5 936.2,318 947.9,332.1 958.1,346 966.9,359.6 974.7,372.9 981.4,385.9 987.2,398.7 992.2,411.2 996.5,423.5 1000.2,435.5 1003.4,447.3 1006.2,458.8 1008.5,470.2 1010.5,481.4 1012.2,492.3 1013.7,503 1014.9,513.6 1015.9,524 1016.8,534.2 1017.5,544.2 1018,554.1 1018.5,563.7 1018.8,573.3 1019,582.6 1019.2,591.9 1019.3,600.9 1019.4,609.9 1019.4,618.6 1019.3,627.3 1019.2,635.8 1019.1,644.2 1019,652.5 1018.8,660.6 1018.6,668.6 1018.4,676.5 1018.2,684.3 1018,691.9 1017.8,699.5 1017.6,706.9 1017.3,714.3 1017.1,721.5 1016.9,728.7 1016.7,735.7 1016.4,742.6 1016.2,749.5 1016,756.2 1015.8,762.9 1015.6,769.4 1015.4,775.9 1015.2,782.3 1015.1,788.6 1014.9,794.9 1014.7,801 1015.7,801 1015.9,794.9 1016.1,788.6 1016.2,782.3 1016.4,775.9 1016.6,769.4 1016.8,762.9 1017,756.2 1017.2,749.5 1017.4,742.6 1017.7,735.7 1017.9,728.7 1018.1,721.5 1018.3,714.3 1018.6,706.9 1018.8,699.5 1019,691.9 1019.2,684.3 1019.4,676.5 1019.6,668.6 1019.8,660.6 1020,652.5 1020.1,644.2 1020.2,635.8 1020.3,627.3 1020.4,618.6 1020.4,609.9 1020.3,600.9 1020.2,591.9 1020,582.6 1019.8,573.3 1019.5,563.7 1019,554.1 1018.5,544.2 1017.8,534.2 1016.9,524 1015.9,513.6 1014.7,503 1013.2,492.3 1011.5,481.4 1009.5,470.2 1007.2,458.8 1004.4,447.3 1001.2,435.5 997.5,423.5 993.2,411.2 988.2,398.7 982.4,385.9 975.7,372.9 967.9,359.6 959.1,346 948.9,332.1 937.2,318 924,303.5 909.2,288.6Z"/>
<path fill="#ff0000" d="M710.3,67.5 722.4,78.4 745.9,98.6 769.6,118.2 793.4,137.2 817,155.8 840.3,173.8 862.7,191.4 884.2,208.5 904.3,225.2 922.9,241.5 939.7,257.4 939.7,258.4 922.9,242.5 904.3,226.2 884.2,209.5 862.7,192.4 840.3,174.8 817,156.8 793.4,138.2 769.6,119.2 745.9,99.6 722.4,79.4 710.3,68.5ZM939.2,257.9 954.2,273.5 967.3,288.6 978.8,303.5 988.8,318 997.3,332.1 1004.6,346 1010.9,359.6 1016.2,372.9 1020.7,385.9 1024.5,398.7 1027.8,411.2 1030.5,423.5 1032.7,435.5 1034.6,447.3 1036.2,458.8 1037.4,470.2 1038.4,481.4 1039.2,492.3 1039.8,503 1040.3,513.6 1040.6,524 1040.8,534.2 1040.8,544.2 1040.8,554.1 1040.7,563.7 1040.6,573.3 1040.4,582.6 1040.1,591.9 1039.8,600.9 1039.5,609.9 1039.1,618.6 1038.7,627.3 1038.3,635.8 1037.9,644.2 1037.5,652.5 1037.1,660.6 1036.6,668.6 1036.2,676.5 1035.8,684.3 1035.3,691.9 1034.9,699.5 1034.5,706.9 1034,714.3 1033.6,721.5 1033.2,728.7 1032.8,735.7 1032.4,742.6 1032.1,749.5 1031.7,756.2 1031.4,762.9 1031,769.4 1030.7,775.9 1030.4,782.3 1030.1,788.6 1029.8,794.9 1029.6,801 1030.6,801 1030.8,794.9 1031.1,788.6 1031.4,782.3 1031.7,775.9 1032,769.4 1032.4,762.9 1032.7,756.2 1033.1,749.5 1033.4,742.6 1033.8,735.7 1034.2,728.7 1034.6,721.5 1035,714.3 1035.5,706.9 1035.9,699.5 1036.3,691.9 1036.8,684.3 1037.2,676.5 1037.6,668.6 1038.1,660.6 1038.5,652.5 1038.9,644.2 1039.3,635.8 1039.7,627.3 1040.1,618.6 1040.5,609.9 1040.8,600.9 1041.1,591.9 1041.4,582.6 1041.6,573.3 1041.7,563.7 1041.8,554.1 1041.8,544.2 1041.8,534.2 1041.6,524 1041.3,513.6 1040.8,503 1040.2,492.3 1039.4,481.4 1038.4,470.2 1037.2,458.8 1035.6,447.3 1033.7,435.5 1031.5,423.5 1028.8,411.2 1025.5,398.7 1021.7,385.9 1017.2,372.9 1011.9,359.6 1005.6,346 998.3,332.1 989.8,318 979.8,303.5 968.3,288.6 955.2,273.5 940.2,257.9Z"/>
<path fill="#ff0000" d="M776.4,67.5 789.4,78.4 814.1,98.6 838.8,118.2 863.1,137.2 886.7,155.8 909.2,173.8 930.3,191.4 949.7,208.5 967.1,225.2 967.1,226.2 949.7,209.5 930.3,192.4 909.2,174.8 886.7,156.8 863.1,138.2 838.8,119.2 814.1,99.6 789.4,79.4 776.4,68.5ZM966.6,225.7 982,242 995.5,257.9 1007.1,273.5 1016.9,288.6 1025.3,303.5 1032.4,318 1038.3,332.1 1043.3,346 1047.4,359.6 1050.9,372.9 1053.7,385.9 1056,398.7 1057.8,411.2 1059.3,423.5 1060.4,435.5 1061.2,447.3 1061.9,458.8 1062.3,470.2 1062.5,481.4 1062.6,492.3 1062.5,503 1062.3,513.6 1062.1,524 1061.7,534.2 1061.3,544.2 1060.9,554.1 1060.4,563.7 1059.8,573.3 1059.2,582.6 1058.6,591.9 1058,600.9 1057.4,609.9 1056.7,618.6 1056,627.3 1055.4,635.8 1054.7,644.2 1054.1,652.5 1053.4,660.6 1052.8,668.6 1052.1,676.5 1051.5,684.3 1050.9,691.9 1050.3,699.5 1049.7,706.9 1049.1,714.3 1048.5,721.5 1048,728.7 1047.4,735.7 1046.9,742.6 1046.4,749.5 1046,756.2 1045.5,762.9 1045,769.4 1044.6,775.9 1044.2,782.3 1043.8,788.6 1043.4,794.9 1043.1,801 1044.1,801 1044.4,794.9 1044.8,788.6 1045.2,782.3 1045.6,775.9 1046,769.4 1046.5,762.9 1047,756.2 1047.4,749.5 1047.9,742.6 1048.4,735.7 1049,728.7 1049.5,721.5 1050.1,714.3 1050.7,706.9 1051.3,699.5 1051.9,691.9 1052.5,684.3 1053.1,676.5 1053.8,668.6 1054.4,660.6 1055.1,652.5 1055.7,644.2 1056.4,635.8 1057,627.3 1057.7,618.6 1058.4,609.9 1059,600.9 1059.6,591.9 1060.2,582.6 1060.8,573.3 1061.4,563.7 1061.9,554.1 1062.3,544.2 1062.7,534.2 1063.1,524 1063.3,513.6 1063.5,503 1063.6,492.3 1063.5,481.4 1063.3,470.2 1062.9,458.8 1062.2,447.3 1061.4,435.5 1060.3,423.5 1058.8,411.2 1057,398.7 1054.7,385.9 1051.9,372.9 1048.4,359.6 1044.3,346 1039.3,332.1 1033.4,318 1026.3,303.5 1017.9,288.6 1008.1,273.5 996.5,257.9 983,242 967.6,225.7Z"/>
<path fill="#ff0000" d="M842.2,67.5 855.7,78.4 881.2,98.6 906.1,118.2 929.9,137.2 952.2,155.8 972.7,173.8 991.2,191.4 991.2,192.4 972.7,174.8 952.2,156.8 929.9,138.2 906.1,119.2 881.2,99.6 855.7,79.4 842.2,68.5ZM990.7,191.9 1006.9,209 1020.9,225.7 1032.8,242 1042.9,257.9 1051.3,273.5 1058.3,288.6 1064.1,303.5 1068.8,318 1072.7,332.1 1075.8,346 1078.3,359.6 1080.2,372.9 1081.7,385.9 1082.8,398.7 1083.5,411.2 1084,423.5 1084.3,435.5 1084.3,447.3 1084.2,458.8 1083.9,470.2 1083.5,481.4 1083,492.3 1082.4,503 1081.8,513.6 1081.1,524 1080.3,534.2 1079.5,544.2 1078.7,554.1 1077.8,563.7 1076.9,573.3 1076,582.6 1075.2,591.9 1074.3,600.9 1073.4,609.9 1072.5,618.6 1071.6,627.3 1070.7,635.8 1069.8,644.2 1069,652.5 1068.1,660.6 1067.3,668.6 1066.5,676.5 1065.7,684.3 1065,691.9 1064.2,699.5 1063.5,706.9 1062.8,714.3 1062.1,721.5 1061.4,728.7 1060.7,735.7 1060.1,742.6 1059.5,749.5 1058.9,756.2 1058.4,762.9 1057.8,769.4 1057.3,775.9 1056.8,782.3 1056.3,788.6 1055.9,794.9 1055.4,801 1056.4,801 1056.9,794.9 1057.3,788.6 1057.8,782.3 1058.3,775.9 1058.8,769.4 1059.4,762.9 1059.9,756.2 1060.5,749.5 1061.1,742.6 1061.7,735.7 1062.4,728.7 1063.1,721.5 1063.8,714.3 1064.5,706.9 1065.2,699.5 1066,691.9 1066.7,684.3 1067.5,676.5 1068.3,668.6 1069.1,660.6 1070,652.5 1070.8,644.2 1071.7,635.8 1072.6,627.3 1073.5,618.6 1074.4,609.9 1075.3,600.9 1076.2,591.9 1077,582.6 1077.9,573.3 1078.8,563.7 1079.7,554.1 1080.5,544.2 1081.3,534.2 1082.1,524 1082.8,513.6 1083.4,503 1084,492.3 1084.5,481.4 1084.9,470.2 1085.2,458.8 1085.3,447.3 1085.3,435.5 1085,423.5 1084.5,411.2 1083.8,398.7 1082.7,385.9 1081.2,372.9 1079.3,359.6 1076.8,346 1073.7,332.1 1069.8,318 1065.1,303.5 1059.3,288.6 1052.3,273.5 1043.9,257.9 1033.8,242 1021.9,225.7 1007.9,209 991.7,191.9Z"/>
<path fill="#ff0000" d="M907,67.5 920.8,78.4 946.1,98.6 969.9,118.2 991.9,137.2 1011.7,155.8 1011.7,156.8 991.9,138.2 969.9,119.2 946.1,99.6 920.8,79.4 907,68.5ZM1011.2,156.3 1028.6,174.3 1043.6,191.9 1056.2,209 1066.8,225.7 1075.5,242 1082.6,257.9 1088.4,273.5 1093,288.6 1096.7,303.5 1099.6,318 1101.8,332.1 1103.4,346 1104.6,359.6 1105.4,372.9 1105.8,385.9 1105.9,398.7 1105.9,411.2 1105.6,423.5 1105.1,435.5 1104.5,447.3 1103.8,458.8 1103,470.2 1102.1,481.4 1101.1,492.3 1100.1,503 1099,513.6 1098,524 1096.9,534.2 1095.7,544.2 1094.6,554.1 1093.4,563.7 1092.3,573.3 1091.2,582.6 1090,591.9 1088.9,600.9 1087.8,609.9 1086.7,618.6 1085.6,627.3 1084.6,635.8 1083.5,644.2 1082.5,652.5 1081.5,660.6 1080.6,668.6 1079.6,676.5 1078.7,684.3 1077.8,691.9 1076.9,699.5 1076.1,706.9 1075.2,714.3 1074.4,721.5 1073.7,728.7 1072.9,735.7 1072.2,742.6 1071.5,749.5 1070.8,756.2 1070.2,762.9 1069.5,769.4 1068.9,775.9 1068.4,782.3 1067.8,788.6 1067.3,794.9 1066.8,801 1067.8,801 1068.3,794.9 1068.8,788.6 1069.4,782.3 1069.9,775.9 1070.5,769.4 1071.2,762.9 1071.8,756.2 1072.5,749.5 1073.2,742.6 1073.9,735.7 1074.7,728.7 1075.4,721.5 1076.2,714.3 1077.1,706.9 1077.9,699.5 1078.8,691.9 1079.7,684.3 1080.6,676.5 1081.6,668.6 1082.5,660.6 1083.5,652.5 1084.5,644.2 1085.6,635.8 1086.6,627.3 1087.7,618.6 1088.8,609.9 1089.9,600.9 1091,591.9 1092.2,582.6 1093.3,573.3 1094.4,563.7 1095.6,554.1 1096.7,544.2 1097.9,534.2 1099,524 1100,513.6 1101.1,503 1102.1,492.3 1103.1,481.4 1104,470.2 1104.8,458.8 1105.5,447.3 1106.1,435.5 1106.6,423.5 1106.9,411.2 1106.9,398.7 1106.8,385.9 1106.4,372.9 1105.6,359.6 1104.4,346 1102.8,332.1 1100.6,318 1097.7,303.5 1094,288.6 1089.4,273.5 1083.6,257.9 1076.5,242 1067.8,225.7 1057.2,209 1044.6,191.9 1029.6,174.3 1012.2,156.3Z"/>
<path fill="#ff0000" d="M969.8,67.5 983.1,78.4 1007,98.6 1028.5,118.2 1028.5,119.2 1007,99.6 983.1,79.4 969.8,68.5ZM1028,118.7 1047.1,137.7 1063.4,156.3 1077.2,174.3 1088.6,191.9 1097.8,209 1105.3,225.7 1111.3,242 1116,257.9 1119.7,273.5 1122.4,288.6 1124.5,303.5 1125.9,318 1126.8,332.1 1127.3,346 1127.4,359.6 1127.3,372.9 1126.9,385.9 1126.2,398.7 1125.5,411.2 1124.6,423.5 1123.5,435.5 1122.4,447.3 1121.2,458.8 1119.9,470.2 1118.6,481.4 1117.3,492.3 1115.9,503 1114.5,513.6 1113.1,524 1111.8,534.2 1110.4,544.2 1109,554.1 1107.6,563.7 1106.2,573.3 1104.9,582.6 1103.5,591.9 1102.2,600.9 1100.9,609.9 1099.7,618.6 1098.4,627.3 1097.2,635.8 1096.1,644.2 1094.9,652.5 1093.8,660.6 1092.7,668.6 1091.6,676.5 1090.6,684.3 1089.6,691.9 1088.6,699.5 1087.6,706.9 1086.7,714.3 1085.8,721.5 1084.9,728.7 1084.1,735.7 1083.3,742.6 1082.5,749.5 1081.8,756.2 1081.1,762.9 1080.4,769.4 1079.7,775.9 1079,782.3 1078.4,788.6 1077.8,794.9 1077.3,801 1078.3,801 1078.8,794.9 1079.4,788.6 1080,782.3 1080.7,775.9 1081.4,769.4 1082.1,762.9 1082.8,756.2 1083.5,749.5 1084.3,742.6 1085.1,735.7 1085.9,728.7 1086.8,721.5 1087.7,714.3 1088.6,706.9 1089.6,699.5 1090.6,691.9 1091.6,684.3 1092.6,676.5 1093.7,668.6 1094.8,660.6 1095.9,652.5 1097.1,644.2 1098.2,635.8 1099.4,627.3 1100.7,618.6 1101.9,609.9 1103.2,600.9 1104.5,591.9 1105.9,582.6 1107.2,573.3 1108.6,563.7 1110,554.1 1111.4,544.2 1112.8,534.2 1114.1,524 1115.5,513.6 1116.9,503 1118.3,492.3 1119.6,481.4 1120.9,470.2 1122.2,458.8 1123.4,447.3 1124.5,435.5 1125.6,423.5 1126.5,411.2 1127.2,398.7 1127.9,385.9 1128.3,372.9 1128.4,359.6 1128.3,346 1127.8,332.1 1126.9,318 1125.5,303.5 1123.4,288.6 1120.7,273.5 1117,257.9 1112.3,242 1106.3,225.7 1098.8,209 1089.6,191.9 1078.2,174.3 1064.4,156.3 1048.1,137.7 1029,118.7Z"/>
<path fill="#ff0000" d="M1028.9,67.5 1041.2,78.4 1062.3,98.6 1062.3,99.6 1041.2,79.4 1028.9,68.5ZM1061.8,99.1 1080.1,118.7 1095.5,137.7 1108.1,156.3 1118.4,174.3 1126.6,191.9 1133,209 1138,225.7 1141.7,242 1144.5,257.9 1146.4,273.5 1147.7,288.6 1148.4,303.5 1148.7,318 1148.5,332.1 1148.1,346 1147.4,359.6 1146.5,372.9 1145.4,385.9 1144.2,398.7 1142.9,411.2 1141.4,423.5 1139.9,435.5 1138.4,447.3 1136.8,458.8 1135.2,470.2 1133.5,481.4 1131.9,492.3 1130.2,503 1128.5,513.6 1126.9,524 1125.3,534.2 1123.6,544.2 1122,554.1 1120.5,563.7 1118.9,573.3 1117.4,582.6 1115.9,591.9 1114.4,600.9 1113,609.9 1111.6,618.6 1110.2,627.3 1108.8,635.8 1107.5,644.2 1106.3,652.5 1105,660.6 1103.8,668.6 1102.6,676.5 1101.5,684.3 1100.4,691.9 1099.3,699.5 1098.3,706.9 1097.3,714.3 1096.3,721.5 1095.4,728.7 1094.4,735.7 1093.6,742.6 1092.7,749.5 1091.9,756.2 1091.1,762.9 1090.4,769.4 1089.6,775.9 1088.9,782.3 1088.3,788.6 1087.6,794.9 1087,801 1088,801 1088.6,794.9 1089.3,788.6 1089.9,782.3 1090.6,775.9 1091.4,769.4 1092.1,762.9 1092.9,756.2 1093.7,749.5 1094.6,742.6 1095.4,735.7 1096.4,728.7 1097.3,721.5 1098.3,714.3 1099.3,706.9 1100.3,699.5 1101.4,691.9 1102.5,684.3 1103.6,676.5 1104.8,668.6 1106,660.6 1107.3,652.5 1108.5,644.2 1109.8,635.8 1111.2,627.3 1112.6,618.6 1114,609.9 1115.4,600.9 1116.9,591.9 1118.4,582.6 1119.9,573.3 1121.5,563.7 1123,554.1 1124.6,544.2 1126.3,534.2 1127.9,524 1129.5,513.6 1131.2,503 1132.9,492.3 1134.5,481.4 1136.2,470.2 1137.8,458.8 1139.4,447.3 1140.9,435.5 1142.4,423.5 1143.9,411.2 1145.2,398.7 1146.4,385.9 1147.5,372.9 1148.4,359.6 1149.1,346 1149.5,332.1 1149.7,318 1149.4,303.5 1148.7,288.6 1147.4,273.5 1145.5,257.9 1142.7,242 1139,225.7 1134,209 1127.6,191.9 1119.4,174.3 1109.1,156.3 1096.5,137.7 1081.1,118.7 1062.8,99.1Z"/>
<path fill="#ff0000" d="M1082.5,68 1093.1,78.9 1110.7,99.1 1125.2,118.7 1136.9,137.7 1146.1,156.3 1153.3,174.3 1158.8,191.9 1162.9,209 1165.8,225.7 1167.8,242 1169,257.9 1169.6,273.5 1169.6,288.6 1169.3,303.5 1168.6,318 1167.7,332.1 1166.5,346 1165.1,359.6 1163.6,372.9 1162,385.9 1160.3,398.7 1158.5,411.2 1156.6,423.5 1154.7,435.5 1152.8,447.3 1150.9,458.8 1148.9,470.2 1147,481.4 1145.1,492.3 1143.2,503 1141.3,513.6 1139.4,524 1137.6,534.2 1135.8,544.2 1134,554.1 1132.2,563.7 1130.5,573.3 1128.8,582.6 1127.2,591.9 1125.6,600.9 1124,609.9 1122.5,618.6 1121,627.3 1119.5,635.8 1118.1,644.2 1116.7,652.5 1115.4,660.6 1114.1,668.6 1112.8,676.5 1111.6,684.3 1110.4,691.9 1109.3,699.5 1108.1,706.9 1107.1,714.3 1106,721.5 1105,728.7 1104,735.7 1103.1,742.6 1102.2,749.5 1101.3,756.2 1100.5,762.9 1099.7,769.4 1098.9,775.9 1098.1,782.3 1097.4,788.6 1096.7,794.9 1096.1,801 1097.1,801 1097.7,794.9 1098.4,788.6 1099.1,782.3 1099.9,775.9 1100.7,769.4 1101.5,762.9 1102.3,756.2 1103.2,749.5 1104.1,742.6 1105,735.7 1106,728.7 1107,721.5 1108.1,714.3 1109.1,706.9 1110.3,699.5 1111.4,691.9 1112.6,684.3 1113.8,676.5 1115.1,668.6 1116.4,660.6 1117.7,652.5 1119.1,644.2 1120.5,635.8 1122,627.3 1123.5,618.6 1125,609.9 1126.6,600.9 1128.2,591.9 1129.8,582.6 1131.5,573.3 1133.2,563.7 1135,554.1 1136.8,544.2 1138.6,534.2 1140.4,524 1142.3,513.6 1144.2,503 1146.1,492.3 1148,481.4 1149.9,470.2 1151.9,458.8 1153.8,447.3 1155.7,435.5 1157.6,423.5 1159.5,411.2 1161.3,398.7 1163,385.9 1164.6,372.9 1166.1,359.6 1167.5,346 1168.7,332.1 1169.6,318 1170.3,303.5 1170.6,288.6 1170.6,273.5 1170,257.9 1168.8,242 1166.8,225.7 1163.9,209 1159.8,191.9 1154.3,174.3 1147.1,156.3 1137.9,137.7 1126.2,118.7 1111.7,99.1 1094.1,78.9 1083.5,68Z"/>
</g>
<g shape-rendering="crispEdges" stroke="#000" stroke-width="1" fill="none">
<line x1="166" y1="92.5" x2="1078" y2="92.5" stroke-dasharray="2 3"/>
<line x1="156" y1="92.5" x2="166" y2="92.5"/><line x1="1076" y1="92.5" x2="1087" y2="92.5"/>
<line x1="166" y1="133.5" x2="1078" y2="133.5" stroke-dasharray="2 3"/>
<line x1="156" y1="133.5" x2="166" y2="133.5"/><line x1="1076" y1="133.5" x2="1087" y2="133.5"/>
<line x1="166" y1="169.5" x2="1078" y2="169.5" stroke-dasharray="2 3"/>
<line x1="156" y1="169.5" x2="166" y2="169.5"/><line x1="1076" y1="169.5" x2="1087" y2="169.5"/>
<line x1="166" y1="199.5" x2="1078" y2="199.5" stroke-dasharray="2 3"/>
<line x1="156" y1="199.5" x2="166" y2="199.5"/><line x1="1076" y1="199.5" x2="1087" y2="199.5"/>
<line x1="166" y1="226.5" x2="1078" y2="226.5" stroke-dasharray="2 3"/>
<line x1="156" y1="226.5" x2="166" y2="226.5"/><line x1="1076" y1="226.5" x2="1087" y2="226.5"/>
<line x1="166" y1="251.5" x2="1078" y2="251.5" stroke-dasharray="2 3"/>
<line x1="156" y1="251.5" x2="166" y2="251.5"/><line x1="1076" y1="251.5" x2="1087" y2="251.5"/>
<line x1="166" y1="410.5" x2="1078" y2="410.5" stroke-dasharray="2 3"/>
<line x1="156" y1="410.5" x2="166" y2="410.5"/><line x1="1076" y1="410.5" x2="1087" y2="410.5"/>
<line x1="166" y1="503.5" x2="1078" y2="503.5" stroke-dasharray="2 3"/>
<line x1="156" y1="503.5" x2="166" y2="503.5"/><line x1="1076" y1="503.5" x2="1087" y2="503.5"/>
<line x1="166" y1="569.5" x2="1078" y2="569.5" stroke-dasharray="2 3"/>
<line x1="156" y1="569.5" x2="166" y2="569.5"/><line x1="1076" y1="569.5" x2="1087" y2="569.5"/>
<line x1="166" y1="620.5" x2="1078" y2="620.5" stroke-dasharray="2 3"/>
<line x1="156" y1="620.5" x2="166" y2="620.5"/><line x1="1076" y1="620.5" x2="1087" y2="620.5"/>
<line x1="166" y1="662.5" x2="1078" y2="662.5" stroke-dasharray="2 3"/>
<line x1="156" y1="662.5" x2="166" y2="662.5"/><line x1="1076" y1="662.5" x2="1087" y2="662.5"/>
<line x1="172" y1="697.5" x2="1075" y2="697.5" stroke-dasharray="1 4"/>
<line x1="156" y1="697.5" x2="166" y2="697.5"/><line x1="1076" y1="697.5" x2="1087" y2="697.5"/>
<line x1="172" y1="727.5" x2="1075" y2="727.5" stroke-dasharray="1 4"/>
<line x1="156" y1="727.5" x2="166" y2="727.5"/><line x1="1076" y1="727.5" x2="1087" y2="727.5"/>
<line x1="172" y1="754.5" x2="1075" y2="754.5" stroke-dasharray="1 4"/>
<line x1="156" y1="754.5" x2="166" y2="754.5"/><line x1="1076" y1="754.5" x2="1087" y2="754.5"/>
<line x1="172" y1="779.5" x2="1075" y2="779.5" stroke-dasharray="1 4"/>
<line x1="156" y1="779.5" x2="166" y2="779.5"/><line x1="1076" y1="779.5" x2="1087" y2="779.5"/>
<line x1="207.5" y1="68" x2="207.5" y2="78"/><line x1="207.5" y1="791" x2="207.5" y2="802"/>
<line x1="311.5" y1="68" x2="311.5" y2="78"/><line x1="311.5" y1="791" x2="311.5" y2="802"/>
<line x1="414.5" y1="68" x2="414.5" y2="78"/><line x1="414.5" y1="791" x2="414.5" y2="802"/>
<line x1="517.5" y1="68" x2="517.5" y2="78"/><line x1="517.5" y1="791" x2="517.5" y2="802"/>
<line x1="621.5" y1="68" x2="621.5" y2="78"/><line x1="621.5" y1="791" x2="621.5" y2="802"/>
<line x1="724.5" y1="68" x2="724.5" y2="78"/><line x1="724.5" y1="791" x2="724.5" y2="802"/>
<line x1="827.5" y1="68" x2="827.5" y2="78"/><line x1="827.5" y1="791" x2="827.5" y2="802"/>
<line x1="931.5" y1="68" x2="931.5" y2="78"/><line x1="931.5" y1="791" x2="931.5" y2="802"/>
<line x1="1034.5" y1="68" x2="1034.5" y2="78"/><line x1="1034.5" y1="791" x2="1034.5" y2="802"/>
<rect x="156.5" y="68.5" width="930" height="733"/>
</g>
<g clip-path="url(#cp)" fill="none" stroke="#000" shape-rendering="crispEdges" stroke-linejoin="round">
<polyline stroke-width="4.6" points="952.6,66.6 946.7,69.8 925,80.9 880,100.6 845,119.3 823.3,130.7 801.7,141.8 780,153.4 755.8,167.3 733.3,179.8 715,192.3 695,206.5 674.2,221.5 653.3,235.7 634,252.3 621.7,262 608.3,273.3 593.3,286.2 580,299.2 568.3,313.3 558.3,326.7 548.3,340.8 538.3,354.2 530,366.7 524.2,378.3 520.5,389 518.2,399.5 518,410.5 521.7,421.2 529,433.5 539,445.8 550,457.5 563.3,470.8 576.7,483.3 591.7,496.7 601.7,504.2 616,515.5 634,529.5 650,545.8 663.3,559.2 675,570.8 685,581.7 695,592.5 703.3,603.3 709.2,615 714.2,624.2 720,632.5 724,641 727,650.5 728.3,661.7 730.8,670.8 736.7,680.8 745,691.7 753.3,701.7 761.7,710.8 770,720 781.5,727.5 797.5,736.7 814,744.5 831,751.5 846.7,757.8 855.8,762 858.5,765.5 858.8,769.2 853.3,773.2 850.8,776.7 849.2,782.5"/>
<path stroke-width="4.3" d="M651.6,70.2 641.4,78.8M637.6,81.9 627.4,90.5M623.6,93.6 613.4,101.6M609.6,104.6 599.4,112.7M595.6,115.7 585.4,124M581.6,127.2 571.4,135.5M567.6,138.6 557.4,147M553.6,150.2 543.4,158.6M539.6,161.7 529.4,170.4M525.6,173.6 515.4,182.3M511.6,185.7 501.5,195.9M497.7,199.7 494.2,203.2 487.5,208.4M483.7,211.6 479.2,215.7 473.8,221.4M470.3,225.2 466.7,229 460.8,235.4M457.3,239.2 456.7,239.8 449.5,249.4M446.6,253.2 438.5,263.4M435.6,267.2 431.7,272.5 429.2,277.4M427.2,281.2 426.7,282.2 422.5,291.1 422.3,291.4M420.1,295.2 418.3,298.4 417.2,305.4M416.9,309.2 416.7,319.4M416.6,323.2 416.5,331.5 416.8,333.4M417.4,337.2 418.5,343.5 419.9,347.4M421.3,351.2 423.3,356.7 424.9,361.4M426.1,365.2 428.3,371.7 429.7,375.4M431.1,379.2 433.3,385 434.9,389.4M436.2,393.2 437.5,396.7 444.2,401.8M448,404.8 450,406.3 458.2,411.9M462,414.5 463.5,415.5 471.7,420.8 472.2,421.2M476,424.3 480,427.5 486.2,433.5M490,437.2 491.7,438.8 499.5,447.3M503,451.1 505.5,453.8 512.6,461.3M516.2,465.1 518.5,467.5 526.3,474M530.1,477.2 531.7,478.5 540.3,484.3M544.1,486.9 546.7,488.7 554.3,495.2M558.1,498.4 560,500 568.3,506.7M572.1,509.8 573.3,510.8 582.3,517.6M586.1,520.4 587.5,521.5 596.3,527M600.1,529.9 606,535 607.3,539.3M607.1,543.1 601,552 599.7,552.6M595.9,554.4 593.5,555.6 585.7,558.3M581.9,559.6 578.3,560.8 571.7,563M567.9,564.3 563.3,565.8 557.7,568M553.9,569.5 548.3,571.7 543.7,573.4M539.9,574.9 535,576.7 529.7,578.5M525.9,579.7 520,581.7 515.7,584.5M511.9,587 508,589.5 501.7,592.9M497.9,595 493.3,597.5 487.7,601M483.9,603.4 479,606.5 473.7,610.6M469.9,613.5 463.2,618.6 461.7,622.1M460,625.9 459.4,627.3 456.8,635.8 457.1,636M460.9,639.2 467.3,644.5 465.3,648.3M463.4,652.1 463.2,652.4 459.1,660.4 460.5,662.3M463.3,666.1 465,668.4 472.9,670.7M476.7,671.8 478.5,672.3 486.9,674.5M490.7,675.5 494.5,676.5 500.9,678.3M504.7,679.3 510,680.8 514.9,681.9M518.7,682.8 528.3,685 528.9,685.1M532.7,685.8 542.9,687.6M546.7,688.3 556.9,690.2M560.7,690.9 565,691.7 570.9,692.8M574.7,693.4 583.3,695 584.9,695.3M588.7,696 598.9,697.8M602.7,698.4 612.9,699.8M616.7,700.3 620,700.8 626.9,702M630.7,702.7 640.9,704.5M644.7,705.2 654.9,707M658.7,707.7 668.9,709.5M672.7,710.2 682.9,712M686.7,712.7 690,713.3 696.9,714.8M700.7,715.6 703.3,716.2 710.9,717.7M714.7,718.4 716.7,718.8 724.9,720.4M728.7,721.1 731.7,721.7 738.9,723.6M742.7,724.7 745,725.3 752.9,727.4M756.7,728.3 760,729.2 766.9,730.9M770.7,731.8 775,732.8 780.9,735.7M784.7,737.5 792.1,740.8 794.9,742M798.7,743.5 806.3,746.7 808.9,747.8M812.7,749.4 820.8,752.9 822.9,754M826.7,756.4 834.2,762.5 834.8,765.2M835.2,769 832.9,777.1 833.3,779.2"/>
</g>
<g>
<text class="tt" y="52"><tspan x="221.65" textLength="162.17" lengthAdjust="spacingAndGlyphs">Scanning-HIS</tspan> <tspan x="390.62" textLength="71.19" lengthAdjust="spacingAndGlyphs">RT-DR</tspan> <tspan x="467.75" textLength="70.24" lengthAdjust="spacingAndGlyphs">Mean</tspan> <tspan x="544.11" textLength="105.67" lengthAdjust="spacingAndGlyphs">Retrieval</tspan> <tspan x="654.67" textLength="8.11" lengthAdjust="spacingAndGlyphs">:</tspan> <tspan x="667.77" textLength="141.25" lengthAdjust="spacingAndGlyphs">26-Sep-2012</tspan> <tspan x="816.88" textLength="88.42" lengthAdjust="spacingAndGlyphs">14:06:34</tspan> <tspan x="914.00" textLength="12.50" lengthAdjust="spacingAndGlyphs">-</tspan> <tspan x="929.66" textLength="89.56" lengthAdjust="spacingAndGlyphs">14:07:29</tspan></text>
<text class="tk" x="149.5" y="100.5" text-anchor="end">50</text>
<text class="tk" x="149.5" y="142.3" text-anchor="end">60</text>
<text class="tk" x="149.5" y="177.6" text-anchor="end">70</text>
<text class="tk" x="149.5" y="208.2" text-anchor="end">80</text>
<text class="tk" x="149.5" y="235.3" text-anchor="end">90</text>
<text class="tk" x="149.5" y="259.4" text-anchor="end">100</text>
<text class="tk" x="149.5" y="418.4" text-anchor="end">200</text>
<text class="tk" x="149.5" y="511.3" text-anchor="end">300</text>
<text class="tk" x="149.5" y="577.3" text-anchor="end">400</text>
<text class="tk" x="149.5" y="628.5" text-anchor="end">500</text>
<text class="tk" x="149.5" y="670.3" text-anchor="end">600</text>
<text class="tk" x="149.5" y="705.7" text-anchor="end">700</text>
<text class="tk" x="149.5" y="736.3" text-anchor="end">800</text>
<text class="tk" x="149.5" y="763.3" text-anchor="end">900</text>
<text class="tk" x="149.5" y="787.4" text-anchor="end">1000</text>
<text class="tk" x="204.2" y="829.5" text-anchor="middle">-40</text>
<text class="tk" x="307.5" y="829.5" text-anchor="middle">-30</text>
<text class="tk" x="410.8" y="829.5" text-anchor="middle">-20</text>
<text class="tk" x="514.2" y="829.5" text-anchor="middle">-10</text>
<text class="tk" x="620.5" y="829.5" text-anchor="middle">0</text>
<text class="tk" x="723.8" y="829.5" text-anchor="middle">10</text>
<text class="tk" x="827.2" y="829.5" text-anchor="middle">20</text>
<text class="tk" x="930.5" y="829.5" text-anchor="middle">30</text>
<text class="tk" x="1033.8" y="829.5" text-anchor="middle">40</text>
<text class="tk" x="1106" y="394.9">180</text>
<text class="tk" x="1106" y="420.2">200</text>
<text class="tk" x="1106" y="432.5">212</text>
<text class="tk" x="1106" y="444.5">223</text>
<text class="tk" x="1106" y="744.7">827</text>
<text class="lb" x="620.4" y="856.3" text-anchor="middle">Temperature (C)</text>
<text class="lb" transform="translate(96.3 436) rotate(-90)" text-anchor="middle">Pressure (mb)</text>
</g>
</svg>
</body></html>
